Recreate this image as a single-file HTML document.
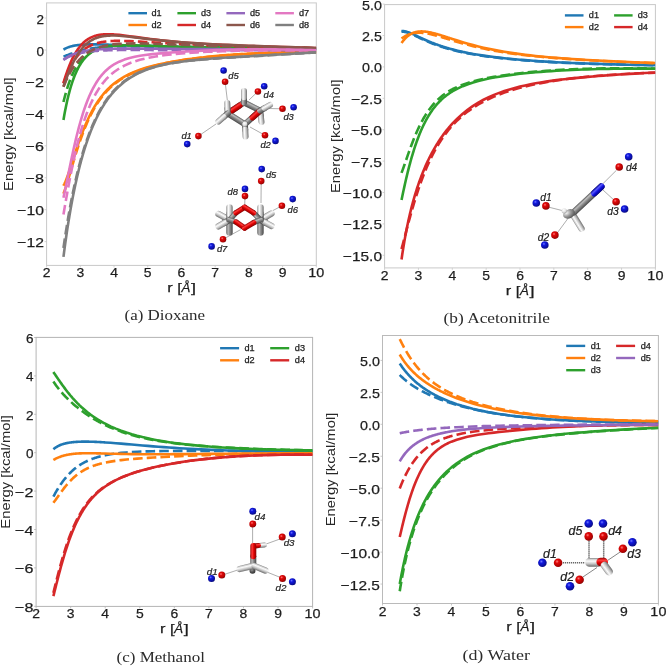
<!DOCTYPE html>
<html><head><meta charset="utf-8"><style>
html,body{margin:0;padding:0;background:#fff;}
svg{display:block;filter:blur(0.3px);}
</style></head><body>
<svg width="666" height="666" viewBox="0 0 666 666">
<defs>
<clipPath id="clipa"><rect x="46.60" y="2.90" width="269.70" height="262.50"/></clipPath>
<clipPath id="clipb"><rect x="384.60" y="4.60" width="270.80" height="263.30"/></clipPath>
<clipPath id="clipc"><rect x="36.10" y="337.40" width="276.50" height="269.00"/></clipPath>
<clipPath id="clipd"><rect x="382.50" y="335.50" width="275.90" height="268.00"/></clipPath>

<radialGradient id="gK" cx="0.4" cy="0.35" r="0.7">
  <stop offset="0" stop-color="#9a9a9a"/><stop offset="0.5" stop-color="#555"/><stop offset="1" stop-color="#2a2a2a"/>
</radialGradient>
<radialGradient id="gM" cx="0.35" cy="0.3" r="0.75">
  <stop offset="0" stop-color="#f4f4f4"/><stop offset="0.45" stop-color="#a0a0a0"/><stop offset="1" stop-color="#505050"/>
</radialGradient>
<radialGradient id="gW" cx="0.4" cy="0.35" r="0.7">
  <stop offset="0" stop-color="#ffffff"/><stop offset="0.6" stop-color="#e0e0e0"/><stop offset="1" stop-color="#9a9a9a"/>
</radialGradient>
<linearGradient id="sG" x1="0" y1="0" x2="0" y2="1">
  <stop offset="0" stop-color="#585858"/><stop offset="0.28" stop-color="#bdbdbd"/><stop offset="0.55" stop-color="#8a8a8a"/><stop offset="1" stop-color="#474747"/>
</linearGradient>
<linearGradient id="sW" x1="0" y1="0" x2="0" y2="1">
  <stop offset="0" stop-color="#8a8a8a"/><stop offset="0.15" stop-color="#d0d0d0"/><stop offset="0.35" stop-color="#fbfbfb"/><stop offset="0.66" stop-color="#c6c6c6"/><stop offset="1" stop-color="#6c6c6c"/>
</linearGradient>
<linearGradient id="sR" x1="0" y1="0" x2="0" y2="1">
  <stop offset="0" stop-color="#9a0000"/><stop offset="0.3" stop-color="#ff3a3a"/><stop offset="0.6" stop-color="#dd0000"/><stop offset="1" stop-color="#880000"/>
</linearGradient>
<linearGradient id="sB" x1="0" y1="0" x2="0" y2="1">
  <stop offset="0" stop-color="#000090"/><stop offset="0.3" stop-color="#5a5aff"/><stop offset="0.6" stop-color="#1010e0"/><stop offset="1" stop-color="#000080"/>
</linearGradient>
<linearGradient id="sK" x1="0" y1="0" x2="0" y2="1">
  <stop offset="0" stop-color="#202020"/><stop offset="0.3" stop-color="#606060"/><stop offset="1" stop-color="#202020"/>
</linearGradient>
<radialGradient id="gR" cx="0.38" cy="0.35" r="0.72">
  <stop offset="0" stop-color="#ff7a7a"/><stop offset="0.28" stop-color="#e00808"/><stop offset="0.8" stop-color="#a80000"/><stop offset="1" stop-color="#700000"/>
</radialGradient>
<radialGradient id="gB" cx="0.38" cy="0.35" r="0.72">
  <stop offset="0" stop-color="#7078ff"/><stop offset="0.28" stop-color="#1018e0"/><stop offset="0.8" stop-color="#080c98"/><stop offset="1" stop-color="#04066a"/>
</radialGradient>

</defs>
<rect width="666" height="666" fill="#fff"/>
<g opacity="0.995">
<rect x="46.60" y="2.90" width="269.70" height="262.50" fill="none" stroke="#c8c8c8" stroke-width="1"/>
<line x1="44.60" y1="18.06" x2="46.60" y2="18.06" stroke="#c8c8c8" stroke-width="0.8"/>
<text x="44.00" y="23.56" font-size="13.5" text-anchor="end" textLength="7.49" lengthAdjust="spacingAndGlyphs" font-family='"Liberation Sans", sans-serif' fill="#1c1c1c" stroke="#1c1c1c" stroke-width="0.25" >2</text>
<line x1="44.60" y1="50.00" x2="46.60" y2="50.00" stroke="#c8c8c8" stroke-width="0.8"/>
<text x="44.00" y="55.50" font-size="13.5" text-anchor="end" textLength="7.49" lengthAdjust="spacingAndGlyphs" font-family='"Liberation Sans", sans-serif' fill="#1c1c1c" stroke="#1c1c1c" stroke-width="0.25" >0</text>
<line x1="44.60" y1="81.94" x2="46.60" y2="81.94" stroke="#c8c8c8" stroke-width="0.8"/>
<text x="44.00" y="87.44" font-size="13.5" text-anchor="end" textLength="18.38" lengthAdjust="spacingAndGlyphs" font-family='"Liberation Sans", sans-serif' fill="#1c1c1c" stroke="#1c1c1c" stroke-width="0.25" >−2</text>
<line x1="44.60" y1="113.88" x2="46.60" y2="113.88" stroke="#c8c8c8" stroke-width="0.8"/>
<text x="44.00" y="119.38" font-size="13.5" text-anchor="end" textLength="18.38" lengthAdjust="spacingAndGlyphs" font-family='"Liberation Sans", sans-serif' fill="#1c1c1c" stroke="#1c1c1c" stroke-width="0.25" >−4</text>
<line x1="44.60" y1="145.82" x2="46.60" y2="145.82" stroke="#c8c8c8" stroke-width="0.8"/>
<text x="44.00" y="151.32" font-size="13.5" text-anchor="end" textLength="18.38" lengthAdjust="spacingAndGlyphs" font-family='"Liberation Sans", sans-serif' fill="#1c1c1c" stroke="#1c1c1c" stroke-width="0.25" >−6</text>
<line x1="44.60" y1="177.76" x2="46.60" y2="177.76" stroke="#c8c8c8" stroke-width="0.8"/>
<text x="44.00" y="183.26" font-size="13.5" text-anchor="end" textLength="18.38" lengthAdjust="spacingAndGlyphs" font-family='"Liberation Sans", sans-serif' fill="#1c1c1c" stroke="#1c1c1c" stroke-width="0.25" >−8</text>
<line x1="44.60" y1="209.70" x2="46.60" y2="209.70" stroke="#c8c8c8" stroke-width="0.8"/>
<text x="44.00" y="215.20" font-size="13.5" text-anchor="end" textLength="26.65" lengthAdjust="spacingAndGlyphs" font-family='"Liberation Sans", sans-serif' fill="#1c1c1c" stroke="#1c1c1c" stroke-width="0.25" >−10</text>
<line x1="44.60" y1="241.64" x2="46.60" y2="241.64" stroke="#c8c8c8" stroke-width="0.8"/>
<text x="44.00" y="247.14" font-size="13.5" text-anchor="end" textLength="26.65" lengthAdjust="spacingAndGlyphs" font-family='"Liberation Sans", sans-serif' fill="#1c1c1c" stroke="#1c1c1c" stroke-width="0.25" >−12</text>
<line x1="46.60" y1="265.40" x2="46.60" y2="267.40" stroke="#c8c8c8" stroke-width="0.8"/>
<text x="46.60" y="277.40" font-size="13.5" text-anchor="middle" textLength="7.75" lengthAdjust="spacingAndGlyphs" font-family='"Liberation Sans", sans-serif' fill="#1c1c1c" stroke="#1c1c1c" stroke-width="0.25" >2</text>
<line x1="80.31" y1="265.40" x2="80.31" y2="267.40" stroke="#c8c8c8" stroke-width="0.8"/>
<text x="80.31" y="277.40" font-size="13.5" text-anchor="middle" textLength="7.75" lengthAdjust="spacingAndGlyphs" font-family='"Liberation Sans", sans-serif' fill="#1c1c1c" stroke="#1c1c1c" stroke-width="0.25" >3</text>
<line x1="114.03" y1="265.40" x2="114.03" y2="267.40" stroke="#c8c8c8" stroke-width="0.8"/>
<text x="114.03" y="277.40" font-size="13.5" text-anchor="middle" textLength="7.75" lengthAdjust="spacingAndGlyphs" font-family='"Liberation Sans", sans-serif' fill="#1c1c1c" stroke="#1c1c1c" stroke-width="0.25" >4</text>
<line x1="147.74" y1="265.40" x2="147.74" y2="267.40" stroke="#c8c8c8" stroke-width="0.8"/>
<text x="147.74" y="277.40" font-size="13.5" text-anchor="middle" textLength="7.75" lengthAdjust="spacingAndGlyphs" font-family='"Liberation Sans", sans-serif' fill="#1c1c1c" stroke="#1c1c1c" stroke-width="0.25" >5</text>
<line x1="181.45" y1="265.40" x2="181.45" y2="267.40" stroke="#c8c8c8" stroke-width="0.8"/>
<text x="181.45" y="277.40" font-size="13.5" text-anchor="middle" textLength="7.75" lengthAdjust="spacingAndGlyphs" font-family='"Liberation Sans", sans-serif' fill="#1c1c1c" stroke="#1c1c1c" stroke-width="0.25" >6</text>
<line x1="215.16" y1="265.40" x2="215.16" y2="267.40" stroke="#c8c8c8" stroke-width="0.8"/>
<text x="215.16" y="277.40" font-size="13.5" text-anchor="middle" textLength="7.75" lengthAdjust="spacingAndGlyphs" font-family='"Liberation Sans", sans-serif' fill="#1c1c1c" stroke="#1c1c1c" stroke-width="0.25" >7</text>
<line x1="248.87" y1="265.40" x2="248.87" y2="267.40" stroke="#c8c8c8" stroke-width="0.8"/>
<text x="248.87" y="277.40" font-size="13.5" text-anchor="middle" textLength="7.75" lengthAdjust="spacingAndGlyphs" font-family='"Liberation Sans", sans-serif' fill="#1c1c1c" stroke="#1c1c1c" stroke-width="0.25" >8</text>
<line x1="282.59" y1="265.40" x2="282.59" y2="267.40" stroke="#c8c8c8" stroke-width="0.8"/>
<text x="282.59" y="277.40" font-size="13.5" text-anchor="middle" textLength="7.75" lengthAdjust="spacingAndGlyphs" font-family='"Liberation Sans", sans-serif' fill="#1c1c1c" stroke="#1c1c1c" stroke-width="0.25" >9</text>
<line x1="316.30" y1="265.40" x2="316.30" y2="267.40" stroke="#c8c8c8" stroke-width="0.8"/>
<text x="316.30" y="277.40" font-size="13.5" text-anchor="middle" textLength="16.02" lengthAdjust="spacingAndGlyphs" font-family='"Liberation Sans", sans-serif' fill="#1c1c1c" stroke="#1c1c1c" stroke-width="0.25" >10</text>
<text x="167.20" y="292.20" font-size="13.5" text-anchor="start" textLength="14.55" lengthAdjust="spacingAndGlyphs" font-family='"Liberation Sans", sans-serif' fill="#1c1c1c" stroke="#1c1c1c" stroke-width="0.25" >r [</text>
<text x="181.44" y="292.20" font-size="13.5" text-anchor="start" textLength="8.89" lengthAdjust="spacingAndGlyphs" font-family='"Liberation Sans", sans-serif' fill="#1c1c1c" stroke="#1c1c1c" stroke-width="0.25" font-style="italic">Å</text>
<text x="190.93" y="292.20" font-size="13.5" text-anchor="start" textLength="5.07" lengthAdjust="spacingAndGlyphs" font-family='"Liberation Sans", sans-serif' fill="#1c1c1c" stroke="#1c1c1c" stroke-width="0.25" >]</text>
<text transform="translate(13.00,134.15) rotate(-90)" x="0" y="0" font-size="13.5" text-anchor="middle" textLength="113.59" lengthAdjust="spacingAndGlyphs" font-family='"Liberation Sans", sans-serif' fill="#262626">Energy [kcal/mol]</text>
<rect x="384.60" y="4.60" width="270.80" height="263.30" fill="none" stroke="#c8c8c8" stroke-width="1"/>
<line x1="382.60" y1="4.10" x2="384.60" y2="4.10" stroke="#c8c8c8" stroke-width="0.8"/>
<text x="382.00" y="9.60" font-size="13.5" text-anchor="end" textLength="19.89" lengthAdjust="spacingAndGlyphs" font-family='"Liberation Sans", sans-serif' fill="#1c1c1c" stroke="#1c1c1c" stroke-width="0.25" >5.0</text>
<line x1="382.60" y1="35.50" x2="384.60" y2="35.50" stroke="#c8c8c8" stroke-width="0.8"/>
<text x="382.00" y="41.00" font-size="13.5" text-anchor="end" textLength="19.89" lengthAdjust="spacingAndGlyphs" font-family='"Liberation Sans", sans-serif' fill="#1c1c1c" stroke="#1c1c1c" stroke-width="0.25" >2.5</text>
<line x1="382.60" y1="66.90" x2="384.60" y2="66.90" stroke="#c8c8c8" stroke-width="0.8"/>
<text x="382.00" y="72.40" font-size="13.5" text-anchor="end" textLength="19.89" lengthAdjust="spacingAndGlyphs" font-family='"Liberation Sans", sans-serif' fill="#1c1c1c" stroke="#1c1c1c" stroke-width="0.25" >0.0</text>
<line x1="382.60" y1="98.30" x2="384.60" y2="98.30" stroke="#c8c8c8" stroke-width="0.8"/>
<text x="382.00" y="103.80" font-size="13.5" text-anchor="end" textLength="30.78" lengthAdjust="spacingAndGlyphs" font-family='"Liberation Sans", sans-serif' fill="#1c1c1c" stroke="#1c1c1c" stroke-width="0.25" >−2.5</text>
<line x1="382.60" y1="129.70" x2="384.60" y2="129.70" stroke="#c8c8c8" stroke-width="0.8"/>
<text x="382.00" y="135.20" font-size="13.5" text-anchor="end" textLength="30.78" lengthAdjust="spacingAndGlyphs" font-family='"Liberation Sans", sans-serif' fill="#1c1c1c" stroke="#1c1c1c" stroke-width="0.25" >−5.0</text>
<line x1="382.60" y1="161.10" x2="384.60" y2="161.10" stroke="#c8c8c8" stroke-width="0.8"/>
<text x="382.00" y="166.60" font-size="13.5" text-anchor="end" textLength="30.78" lengthAdjust="spacingAndGlyphs" font-family='"Liberation Sans", sans-serif' fill="#1c1c1c" stroke="#1c1c1c" stroke-width="0.25" >−7.5</text>
<line x1="382.60" y1="192.50" x2="384.60" y2="192.50" stroke="#c8c8c8" stroke-width="0.8"/>
<text x="382.00" y="198.00" font-size="13.5" text-anchor="end" textLength="39.05" lengthAdjust="spacingAndGlyphs" font-family='"Liberation Sans", sans-serif' fill="#1c1c1c" stroke="#1c1c1c" stroke-width="0.25" >−10.0</text>
<line x1="382.60" y1="223.90" x2="384.60" y2="223.90" stroke="#c8c8c8" stroke-width="0.8"/>
<text x="382.00" y="229.40" font-size="13.5" text-anchor="end" textLength="39.05" lengthAdjust="spacingAndGlyphs" font-family='"Liberation Sans", sans-serif' fill="#1c1c1c" stroke="#1c1c1c" stroke-width="0.25" >−12.5</text>
<line x1="382.60" y1="255.30" x2="384.60" y2="255.30" stroke="#c8c8c8" stroke-width="0.8"/>
<text x="382.00" y="260.80" font-size="13.5" text-anchor="end" textLength="39.05" lengthAdjust="spacingAndGlyphs" font-family='"Liberation Sans", sans-serif' fill="#1c1c1c" stroke="#1c1c1c" stroke-width="0.25" >−15.0</text>
<line x1="384.60" y1="267.90" x2="384.60" y2="269.90" stroke="#c8c8c8" stroke-width="0.8"/>
<text x="384.60" y="279.90" font-size="13.5" text-anchor="middle" textLength="7.75" lengthAdjust="spacingAndGlyphs" font-family='"Liberation Sans", sans-serif' fill="#1c1c1c" stroke="#1c1c1c" stroke-width="0.25" >2</text>
<line x1="418.45" y1="267.90" x2="418.45" y2="269.90" stroke="#c8c8c8" stroke-width="0.8"/>
<text x="418.45" y="279.90" font-size="13.5" text-anchor="middle" textLength="7.75" lengthAdjust="spacingAndGlyphs" font-family='"Liberation Sans", sans-serif' fill="#1c1c1c" stroke="#1c1c1c" stroke-width="0.25" >3</text>
<line x1="452.30" y1="267.90" x2="452.30" y2="269.90" stroke="#c8c8c8" stroke-width="0.8"/>
<text x="452.30" y="279.90" font-size="13.5" text-anchor="middle" textLength="7.75" lengthAdjust="spacingAndGlyphs" font-family='"Liberation Sans", sans-serif' fill="#1c1c1c" stroke="#1c1c1c" stroke-width="0.25" >4</text>
<line x1="486.15" y1="267.90" x2="486.15" y2="269.90" stroke="#c8c8c8" stroke-width="0.8"/>
<text x="486.15" y="279.90" font-size="13.5" text-anchor="middle" textLength="7.75" lengthAdjust="spacingAndGlyphs" font-family='"Liberation Sans", sans-serif' fill="#1c1c1c" stroke="#1c1c1c" stroke-width="0.25" >5</text>
<line x1="520.00" y1="267.90" x2="520.00" y2="269.90" stroke="#c8c8c8" stroke-width="0.8"/>
<text x="520.00" y="279.90" font-size="13.5" text-anchor="middle" textLength="7.75" lengthAdjust="spacingAndGlyphs" font-family='"Liberation Sans", sans-serif' fill="#1c1c1c" stroke="#1c1c1c" stroke-width="0.25" >6</text>
<line x1="553.85" y1="267.90" x2="553.85" y2="269.90" stroke="#c8c8c8" stroke-width="0.8"/>
<text x="553.85" y="279.90" font-size="13.5" text-anchor="middle" textLength="7.75" lengthAdjust="spacingAndGlyphs" font-family='"Liberation Sans", sans-serif' fill="#1c1c1c" stroke="#1c1c1c" stroke-width="0.25" >7</text>
<line x1="587.70" y1="267.90" x2="587.70" y2="269.90" stroke="#c8c8c8" stroke-width="0.8"/>
<text x="587.70" y="279.90" font-size="13.5" text-anchor="middle" textLength="7.75" lengthAdjust="spacingAndGlyphs" font-family='"Liberation Sans", sans-serif' fill="#1c1c1c" stroke="#1c1c1c" stroke-width="0.25" >8</text>
<line x1="621.55" y1="267.90" x2="621.55" y2="269.90" stroke="#c8c8c8" stroke-width="0.8"/>
<text x="621.55" y="279.90" font-size="13.5" text-anchor="middle" textLength="7.75" lengthAdjust="spacingAndGlyphs" font-family='"Liberation Sans", sans-serif' fill="#1c1c1c" stroke="#1c1c1c" stroke-width="0.25" >9</text>
<line x1="655.40" y1="267.90" x2="655.40" y2="269.90" stroke="#c8c8c8" stroke-width="0.8"/>
<text x="655.40" y="279.90" font-size="13.5" text-anchor="middle" textLength="16.02" lengthAdjust="spacingAndGlyphs" font-family='"Liberation Sans", sans-serif' fill="#1c1c1c" stroke="#1c1c1c" stroke-width="0.25" >10</text>
<text x="505.75" y="295.10" font-size="13.5" text-anchor="start" textLength="14.55" lengthAdjust="spacingAndGlyphs" font-family='"Liberation Sans", sans-serif' fill="#1c1c1c" stroke="#1c1c1c" stroke-width="0.25" >r [</text>
<text x="519.99" y="295.10" font-size="13.5" text-anchor="start" textLength="8.89" lengthAdjust="spacingAndGlyphs" font-family='"Liberation Sans", sans-serif' fill="#1c1c1c" stroke="#1c1c1c" stroke-width="0.25" font-style="italic">Å</text>
<text x="529.48" y="295.10" font-size="13.5" text-anchor="start" textLength="5.07" lengthAdjust="spacingAndGlyphs" font-family='"Liberation Sans", sans-serif' fill="#1c1c1c" stroke="#1c1c1c" stroke-width="0.25" >]</text>
<text transform="translate(339.70,136.25) rotate(-90)" x="0" y="0" font-size="13.5" text-anchor="middle" textLength="113.59" lengthAdjust="spacingAndGlyphs" font-family='"Liberation Sans", sans-serif' fill="#262626">Energy [kcal/mol]</text>
<rect x="36.10" y="337.40" width="276.50" height="269.00" fill="none" stroke="#b4b4b4" stroke-width="1"/>
<line x1="34.10" y1="337.50" x2="36.10" y2="337.50" stroke="#b4b4b4" stroke-width="0.8"/>
<text x="33.50" y="343.00" font-size="13.5" text-anchor="end" textLength="7.49" lengthAdjust="spacingAndGlyphs" font-family='"Liberation Sans", sans-serif' fill="#1c1c1c" stroke="#1c1c1c" stroke-width="0.25" >6</text>
<line x1="34.10" y1="375.90" x2="36.10" y2="375.90" stroke="#b4b4b4" stroke-width="0.8"/>
<text x="33.50" y="381.40" font-size="13.5" text-anchor="end" textLength="7.49" lengthAdjust="spacingAndGlyphs" font-family='"Liberation Sans", sans-serif' fill="#1c1c1c" stroke="#1c1c1c" stroke-width="0.25" >4</text>
<line x1="34.10" y1="414.30" x2="36.10" y2="414.30" stroke="#b4b4b4" stroke-width="0.8"/>
<text x="33.50" y="419.80" font-size="13.5" text-anchor="end" textLength="7.49" lengthAdjust="spacingAndGlyphs" font-family='"Liberation Sans", sans-serif' fill="#1c1c1c" stroke="#1c1c1c" stroke-width="0.25" >2</text>
<line x1="34.10" y1="452.70" x2="36.10" y2="452.70" stroke="#b4b4b4" stroke-width="0.8"/>
<text x="33.50" y="458.20" font-size="13.5" text-anchor="end" textLength="7.49" lengthAdjust="spacingAndGlyphs" font-family='"Liberation Sans", sans-serif' fill="#1c1c1c" stroke="#1c1c1c" stroke-width="0.25" >0</text>
<line x1="34.10" y1="491.10" x2="36.10" y2="491.10" stroke="#b4b4b4" stroke-width="0.8"/>
<text x="33.50" y="496.60" font-size="13.5" text-anchor="end" textLength="18.38" lengthAdjust="spacingAndGlyphs" font-family='"Liberation Sans", sans-serif' fill="#1c1c1c" stroke="#1c1c1c" stroke-width="0.25" >−2</text>
<line x1="34.10" y1="529.50" x2="36.10" y2="529.50" stroke="#b4b4b4" stroke-width="0.8"/>
<text x="33.50" y="535.00" font-size="13.5" text-anchor="end" textLength="18.38" lengthAdjust="spacingAndGlyphs" font-family='"Liberation Sans", sans-serif' fill="#1c1c1c" stroke="#1c1c1c" stroke-width="0.25" >−4</text>
<line x1="34.10" y1="567.90" x2="36.10" y2="567.90" stroke="#b4b4b4" stroke-width="0.8"/>
<text x="33.50" y="573.40" font-size="13.5" text-anchor="end" textLength="18.38" lengthAdjust="spacingAndGlyphs" font-family='"Liberation Sans", sans-serif' fill="#1c1c1c" stroke="#1c1c1c" stroke-width="0.25" >−6</text>
<line x1="34.10" y1="606.30" x2="36.10" y2="606.30" stroke="#b4b4b4" stroke-width="0.8"/>
<text x="33.50" y="611.80" font-size="13.5" text-anchor="end" textLength="18.38" lengthAdjust="spacingAndGlyphs" font-family='"Liberation Sans", sans-serif' fill="#1c1c1c" stroke="#1c1c1c" stroke-width="0.25" >−8</text>
<line x1="36.10" y1="606.40" x2="36.10" y2="608.40" stroke="#b4b4b4" stroke-width="0.8"/>
<text x="36.10" y="618.40" font-size="13.5" text-anchor="middle" textLength="7.75" lengthAdjust="spacingAndGlyphs" font-family='"Liberation Sans", sans-serif' fill="#1c1c1c" stroke="#1c1c1c" stroke-width="0.25" >2</text>
<line x1="70.66" y1="606.40" x2="70.66" y2="608.40" stroke="#b4b4b4" stroke-width="0.8"/>
<text x="70.66" y="618.40" font-size="13.5" text-anchor="middle" textLength="7.75" lengthAdjust="spacingAndGlyphs" font-family='"Liberation Sans", sans-serif' fill="#1c1c1c" stroke="#1c1c1c" stroke-width="0.25" >3</text>
<line x1="105.22" y1="606.40" x2="105.22" y2="608.40" stroke="#b4b4b4" stroke-width="0.8"/>
<text x="105.22" y="618.40" font-size="13.5" text-anchor="middle" textLength="7.75" lengthAdjust="spacingAndGlyphs" font-family='"Liberation Sans", sans-serif' fill="#1c1c1c" stroke="#1c1c1c" stroke-width="0.25" >4</text>
<line x1="139.79" y1="606.40" x2="139.79" y2="608.40" stroke="#b4b4b4" stroke-width="0.8"/>
<text x="139.79" y="618.40" font-size="13.5" text-anchor="middle" textLength="7.75" lengthAdjust="spacingAndGlyphs" font-family='"Liberation Sans", sans-serif' fill="#1c1c1c" stroke="#1c1c1c" stroke-width="0.25" >5</text>
<line x1="174.35" y1="606.40" x2="174.35" y2="608.40" stroke="#b4b4b4" stroke-width="0.8"/>
<text x="174.35" y="618.40" font-size="13.5" text-anchor="middle" textLength="7.75" lengthAdjust="spacingAndGlyphs" font-family='"Liberation Sans", sans-serif' fill="#1c1c1c" stroke="#1c1c1c" stroke-width="0.25" >6</text>
<line x1="208.91" y1="606.40" x2="208.91" y2="608.40" stroke="#b4b4b4" stroke-width="0.8"/>
<text x="208.91" y="618.40" font-size="13.5" text-anchor="middle" textLength="7.75" lengthAdjust="spacingAndGlyphs" font-family='"Liberation Sans", sans-serif' fill="#1c1c1c" stroke="#1c1c1c" stroke-width="0.25" >7</text>
<line x1="243.47" y1="606.40" x2="243.47" y2="608.40" stroke="#b4b4b4" stroke-width="0.8"/>
<text x="243.47" y="618.40" font-size="13.5" text-anchor="middle" textLength="7.75" lengthAdjust="spacingAndGlyphs" font-family='"Liberation Sans", sans-serif' fill="#1c1c1c" stroke="#1c1c1c" stroke-width="0.25" >8</text>
<line x1="278.04" y1="606.40" x2="278.04" y2="608.40" stroke="#b4b4b4" stroke-width="0.8"/>
<text x="278.04" y="618.40" font-size="13.5" text-anchor="middle" textLength="7.75" lengthAdjust="spacingAndGlyphs" font-family='"Liberation Sans", sans-serif' fill="#1c1c1c" stroke="#1c1c1c" stroke-width="0.25" >9</text>
<line x1="312.60" y1="606.40" x2="312.60" y2="608.40" stroke="#b4b4b4" stroke-width="0.8"/>
<text x="312.60" y="618.40" font-size="13.5" text-anchor="middle" textLength="16.02" lengthAdjust="spacingAndGlyphs" font-family='"Liberation Sans", sans-serif' fill="#1c1c1c" stroke="#1c1c1c" stroke-width="0.25" >10</text>
<text x="160.10" y="633.00" font-size="13.5" text-anchor="start" textLength="14.55" lengthAdjust="spacingAndGlyphs" font-family='"Liberation Sans", sans-serif' fill="#1c1c1c" stroke="#1c1c1c" stroke-width="0.25" >r [</text>
<text x="174.34" y="633.00" font-size="13.5" text-anchor="start" textLength="8.89" lengthAdjust="spacingAndGlyphs" font-family='"Liberation Sans", sans-serif' fill="#1c1c1c" stroke="#1c1c1c" stroke-width="0.25" font-style="italic">Å</text>
<text x="183.83" y="633.00" font-size="13.5" text-anchor="start" textLength="5.07" lengthAdjust="spacingAndGlyphs" font-family='"Liberation Sans", sans-serif' fill="#1c1c1c" stroke="#1c1c1c" stroke-width="0.25" >]</text>
<text transform="translate(9.60,471.90) rotate(-90)" x="0" y="0" font-size="13.5" text-anchor="middle" textLength="113.59" lengthAdjust="spacingAndGlyphs" font-family='"Liberation Sans", sans-serif' fill="#262626">Energy [kcal/mol]</text>
<rect x="382.50" y="335.50" width="275.90" height="268.00" fill="none" stroke="#bababa" stroke-width="1"/>
<line x1="380.50" y1="360.40" x2="382.50" y2="360.40" stroke="#bababa" stroke-width="0.8"/>
<text x="379.90" y="365.90" font-size="13.5" text-anchor="end" textLength="19.89" lengthAdjust="spacingAndGlyphs" font-family='"Liberation Sans", sans-serif' fill="#1c1c1c" stroke="#1c1c1c" stroke-width="0.25" >5.0</text>
<line x1="380.50" y1="392.35" x2="382.50" y2="392.35" stroke="#bababa" stroke-width="0.8"/>
<text x="379.90" y="397.85" font-size="13.5" text-anchor="end" textLength="19.89" lengthAdjust="spacingAndGlyphs" font-family='"Liberation Sans", sans-serif' fill="#1c1c1c" stroke="#1c1c1c" stroke-width="0.25" >2.5</text>
<line x1="380.50" y1="424.30" x2="382.50" y2="424.30" stroke="#bababa" stroke-width="0.8"/>
<text x="379.90" y="429.80" font-size="13.5" text-anchor="end" textLength="19.89" lengthAdjust="spacingAndGlyphs" font-family='"Liberation Sans", sans-serif' fill="#1c1c1c" stroke="#1c1c1c" stroke-width="0.25" >0.0</text>
<line x1="380.50" y1="456.25" x2="382.50" y2="456.25" stroke="#bababa" stroke-width="0.8"/>
<text x="379.90" y="461.75" font-size="13.5" text-anchor="end" textLength="30.78" lengthAdjust="spacingAndGlyphs" font-family='"Liberation Sans", sans-serif' fill="#1c1c1c" stroke="#1c1c1c" stroke-width="0.25" >−2.5</text>
<line x1="380.50" y1="488.20" x2="382.50" y2="488.20" stroke="#bababa" stroke-width="0.8"/>
<text x="379.90" y="493.70" font-size="13.5" text-anchor="end" textLength="30.78" lengthAdjust="spacingAndGlyphs" font-family='"Liberation Sans", sans-serif' fill="#1c1c1c" stroke="#1c1c1c" stroke-width="0.25" >−5.0</text>
<line x1="380.50" y1="520.15" x2="382.50" y2="520.15" stroke="#bababa" stroke-width="0.8"/>
<text x="379.90" y="525.65" font-size="13.5" text-anchor="end" textLength="30.78" lengthAdjust="spacingAndGlyphs" font-family='"Liberation Sans", sans-serif' fill="#1c1c1c" stroke="#1c1c1c" stroke-width="0.25" >−7.5</text>
<line x1="380.50" y1="552.10" x2="382.50" y2="552.10" stroke="#bababa" stroke-width="0.8"/>
<text x="379.90" y="557.60" font-size="13.5" text-anchor="end" textLength="39.05" lengthAdjust="spacingAndGlyphs" font-family='"Liberation Sans", sans-serif' fill="#1c1c1c" stroke="#1c1c1c" stroke-width="0.25" >−10.0</text>
<line x1="380.50" y1="584.05" x2="382.50" y2="584.05" stroke="#bababa" stroke-width="0.8"/>
<text x="379.90" y="589.55" font-size="13.5" text-anchor="end" textLength="39.05" lengthAdjust="spacingAndGlyphs" font-family='"Liberation Sans", sans-serif' fill="#1c1c1c" stroke="#1c1c1c" stroke-width="0.25" >−12.5</text>
<line x1="382.50" y1="603.50" x2="382.50" y2="605.50" stroke="#bababa" stroke-width="0.8"/>
<text x="382.50" y="615.50" font-size="13.5" text-anchor="middle" textLength="7.75" lengthAdjust="spacingAndGlyphs" font-family='"Liberation Sans", sans-serif' fill="#1c1c1c" stroke="#1c1c1c" stroke-width="0.25" >2</text>
<line x1="416.99" y1="603.50" x2="416.99" y2="605.50" stroke="#bababa" stroke-width="0.8"/>
<text x="416.99" y="615.50" font-size="13.5" text-anchor="middle" textLength="7.75" lengthAdjust="spacingAndGlyphs" font-family='"Liberation Sans", sans-serif' fill="#1c1c1c" stroke="#1c1c1c" stroke-width="0.25" >3</text>
<line x1="451.48" y1="603.50" x2="451.48" y2="605.50" stroke="#bababa" stroke-width="0.8"/>
<text x="451.48" y="615.50" font-size="13.5" text-anchor="middle" textLength="7.75" lengthAdjust="spacingAndGlyphs" font-family='"Liberation Sans", sans-serif' fill="#1c1c1c" stroke="#1c1c1c" stroke-width="0.25" >4</text>
<line x1="485.96" y1="603.50" x2="485.96" y2="605.50" stroke="#bababa" stroke-width="0.8"/>
<text x="485.96" y="615.50" font-size="13.5" text-anchor="middle" textLength="7.75" lengthAdjust="spacingAndGlyphs" font-family='"Liberation Sans", sans-serif' fill="#1c1c1c" stroke="#1c1c1c" stroke-width="0.25" >5</text>
<line x1="520.45" y1="603.50" x2="520.45" y2="605.50" stroke="#bababa" stroke-width="0.8"/>
<text x="520.45" y="615.50" font-size="13.5" text-anchor="middle" textLength="7.75" lengthAdjust="spacingAndGlyphs" font-family='"Liberation Sans", sans-serif' fill="#1c1c1c" stroke="#1c1c1c" stroke-width="0.25" >6</text>
<line x1="554.94" y1="603.50" x2="554.94" y2="605.50" stroke="#bababa" stroke-width="0.8"/>
<text x="554.94" y="615.50" font-size="13.5" text-anchor="middle" textLength="7.75" lengthAdjust="spacingAndGlyphs" font-family='"Liberation Sans", sans-serif' fill="#1c1c1c" stroke="#1c1c1c" stroke-width="0.25" >7</text>
<line x1="589.42" y1="603.50" x2="589.42" y2="605.50" stroke="#bababa" stroke-width="0.8"/>
<text x="589.42" y="615.50" font-size="13.5" text-anchor="middle" textLength="7.75" lengthAdjust="spacingAndGlyphs" font-family='"Liberation Sans", sans-serif' fill="#1c1c1c" stroke="#1c1c1c" stroke-width="0.25" >8</text>
<line x1="623.91" y1="603.50" x2="623.91" y2="605.50" stroke="#bababa" stroke-width="0.8"/>
<text x="623.91" y="615.50" font-size="13.5" text-anchor="middle" textLength="7.75" lengthAdjust="spacingAndGlyphs" font-family='"Liberation Sans", sans-serif' fill="#1c1c1c" stroke="#1c1c1c" stroke-width="0.25" >9</text>
<line x1="658.40" y1="603.50" x2="658.40" y2="605.50" stroke="#bababa" stroke-width="0.8"/>
<text x="658.40" y="615.50" font-size="13.5" text-anchor="middle" textLength="16.02" lengthAdjust="spacingAndGlyphs" font-family='"Liberation Sans", sans-serif' fill="#1c1c1c" stroke="#1c1c1c" stroke-width="0.25" >10</text>
<text x="506.20" y="630.70" font-size="13.5" text-anchor="start" textLength="14.55" lengthAdjust="spacingAndGlyphs" font-family='"Liberation Sans", sans-serif' fill="#1c1c1c" stroke="#1c1c1c" stroke-width="0.25" >r [</text>
<text x="520.44" y="630.70" font-size="13.5" text-anchor="start" textLength="8.89" lengthAdjust="spacingAndGlyphs" font-family='"Liberation Sans", sans-serif' fill="#1c1c1c" stroke="#1c1c1c" stroke-width="0.25" font-style="italic">Å</text>
<text x="529.93" y="630.70" font-size="13.5" text-anchor="start" textLength="5.07" lengthAdjust="spacingAndGlyphs" font-family='"Liberation Sans", sans-serif' fill="#1c1c1c" stroke="#1c1c1c" stroke-width="0.25" >]</text>
<text transform="translate(335.00,469.50) rotate(-90)" x="0" y="0" font-size="13.5" text-anchor="middle" textLength="113.59" lengthAdjust="spacingAndGlyphs" font-family='"Liberation Sans", sans-serif' fill="#262626">Energy [kcal/mol]</text>
<path d="M63.46,49.68 L64.02,49.33 L64.59,49.00 L65.16,48.69 L65.73,48.40 L66.30,48.12 L66.87,47.87 L67.43,47.62 L68.00,47.40 L68.57,47.18 L69.14,46.98 L69.71,46.79 L70.27,46.62 L70.84,46.45 L71.41,46.29 L71.98,46.15 L72.55,46.01 L73.12,45.88 L73.68,45.76 L74.25,45.65 L74.82,45.55 L75.39,45.45 L75.96,45.36 L76.52,45.27 L77.09,45.19 L77.66,45.12 L78.23,45.05 L78.80,44.98 L79.37,44.92 L79.93,44.87 L80.50,44.82 L81.07,44.77 L81.64,44.73 L82.21,44.69 L82.77,44.65 L83.34,44.62 L83.91,44.59 L84.48,44.56 L85.05,44.53 L85.62,44.51 L86.18,44.49 L86.75,44.47 L87.32,44.46 L87.89,44.44 L88.46,44.43 L89.02,44.42 L89.59,44.41 L90.16,44.40 L90.73,44.40 L91.30,44.39 L91.87,44.39 L92.43,44.39 L93.00,44.39 L93.57,44.39 L94.14,44.39 L94.71,44.40 L95.27,44.40 L95.84,44.40 L96.41,44.41 L96.98,44.42 L97.55,44.42 L98.12,44.43 L98.68,44.44 L99.25,44.45 L99.82,44.46 L100.39,44.47 L100.96,44.48 L101.52,44.50 L102.09,44.51 L102.66,44.52 L103.23,44.53 L103.80,44.55 L104.37,44.56 L104.93,44.58 L105.50,44.59 L106.07,44.61 L106.64,44.62 L107.21,44.64 L107.77,44.65 L108.34,44.67 L108.91,44.69 L109.48,44.70 L110.05,44.72 L110.62,44.74 L111.18,44.76 L111.75,44.77 L112.32,44.79 L112.89,44.81 L113.46,44.83 L114.03,44.84 L119.21,45.01 L124.40,45.19 L129.58,45.36 L134.77,45.53 L139.96,45.70 L145.14,45.86 L150.33,46.01 L155.52,46.17 L160.70,46.31 L165.89,46.45 L171.08,46.58 L176.26,46.71 L181.45,46.84 L186.64,46.95 L191.82,47.07 L197.01,47.18 L202.20,47.28 L207.38,47.38 L212.57,47.47 L217.76,47.57 L222.94,47.65 L228.13,47.74 L233.32,47.82 L238.50,47.89 L243.69,47.97 L248.87,48.04 L254.06,48.10 L259.25,48.17 L264.43,48.23 L269.62,48.29 L274.81,48.35 L279.99,48.40 L285.18,48.45 L290.37,48.50 L295.55,48.55 L300.74,48.60 L305.93,48.64 L311.11,48.69 L316.30,48.73" fill="none" stroke="#1f77b4" stroke-width="2.6" stroke-linejoin="round" clip-path="url(#clipa)"/>
<path d="M63.46,56.55 L64.02,56.35 L64.59,56.15 L65.16,55.95 L65.73,55.74 L66.30,55.53 L66.87,55.32 L67.43,55.11 L68.00,54.90 L68.57,54.68 L69.14,54.47 L69.71,54.26 L70.27,54.05 L70.84,53.85 L71.41,53.64 L71.98,53.44 L72.55,53.24 L73.12,53.04 L73.68,52.84 L74.25,52.65 L74.82,52.46 L75.39,52.28 L75.96,52.09 L76.52,51.91 L77.09,51.74 L77.66,51.56 L78.23,51.40 L78.80,51.23 L79.37,51.07 L79.93,50.91 L80.50,50.76 L81.07,50.61 L81.64,50.46 L82.21,50.32 L82.77,50.18 L83.34,50.04 L83.91,49.91 L84.48,49.78 L85.05,49.65 L85.62,49.53 L86.18,49.41 L86.75,49.29 L87.32,49.18 L87.89,49.07 L88.46,48.96 L89.02,48.86 L89.59,48.76 L90.16,48.66 L90.73,48.57 L91.30,48.48 L91.87,48.39 L92.43,48.30 L93.00,48.22 L93.57,48.14 L94.14,48.06 L94.71,47.99 L95.27,47.91 L95.84,47.84 L96.41,47.78 L96.98,47.71 L97.55,47.65 L98.12,47.59 L98.68,47.53 L99.25,47.47 L99.82,47.41 L100.39,47.36 L100.96,47.31 L101.52,47.26 L102.09,47.21 L102.66,47.17 L103.23,47.13 L103.80,47.08 L104.37,47.04 L104.93,47.01 L105.50,46.97 L106.07,46.93 L106.64,46.90 L107.21,46.87 L107.77,46.84 L108.34,46.81 L108.91,46.78 L109.48,46.75 L110.05,46.73 L110.62,46.70 L111.18,46.68 L111.75,46.66 L112.32,46.64 L112.89,46.62 L113.46,46.60 L114.03,46.58 L119.21,46.47 L124.40,46.42 L129.58,46.42 L134.77,46.45 L139.96,46.51 L145.14,46.59 L150.33,46.69 L155.52,46.79 L160.70,46.90 L165.89,47.01 L171.08,47.12 L176.26,47.22 L181.45,47.33 L186.64,47.43 L191.82,47.53 L197.01,47.63 L202.20,47.72 L207.38,47.81 L212.57,47.89 L217.76,47.97 L222.94,48.05 L228.13,48.12 L233.32,48.19 L238.50,48.25 L243.69,48.31 L248.87,48.37 L254.06,48.42 L259.25,48.47 L264.43,48.52 L269.62,48.57 L274.81,48.61 L279.99,48.65 L285.18,48.69 L290.37,48.73 L295.55,48.76 L300.74,48.80 L305.93,48.83 L311.11,48.86 L316.30,48.89" fill="none" stroke="#1f77b4" stroke-width="2.6" stroke-dasharray="9.6 4.1" stroke-linejoin="round" clip-path="url(#clipa)"/>
<path d="M63.46,185.75 L64.02,184.71 L64.59,183.55 L65.16,182.29 L65.73,180.94 L66.30,179.52 L66.87,178.03 L67.43,176.48 L68.00,174.88 L68.57,173.24 L69.14,171.57 L69.71,169.87 L70.27,168.14 L70.84,166.40 L71.41,164.65 L71.98,162.89 L72.55,161.13 L73.12,159.36 L73.68,157.60 L74.25,155.85 L74.82,154.10 L75.39,152.37 L75.96,150.65 L76.52,148.94 L77.09,147.26 L77.66,145.58 L78.23,143.93 L78.80,142.30 L79.37,140.69 L79.93,139.11 L80.50,137.54 L81.07,136.01 L81.64,134.49 L82.21,133.00 L82.77,131.53 L83.34,130.09 L83.91,128.68 L84.48,127.29 L85.05,125.92 L85.62,124.58 L86.18,123.27 L86.75,121.98 L87.32,120.72 L87.89,119.48 L88.46,118.26 L89.02,117.07 L89.59,115.91 L90.16,114.77 L90.73,113.65 L91.30,112.55 L91.87,111.48 L92.43,110.43 L93.00,109.40 L93.57,108.40 L94.14,107.41 L94.71,106.45 L95.27,105.51 L95.84,104.59 L96.41,103.69 L96.98,102.80 L97.55,101.94 L98.12,101.10 L98.68,100.27 L99.25,99.46 L99.82,98.67 L100.39,97.90 L100.96,97.15 L101.52,96.41 L102.09,95.68 L102.66,94.98 L103.23,94.28 L103.80,93.61 L104.37,92.94 L104.93,92.30 L105.50,91.66 L106.07,91.04 L106.64,90.44 L107.21,89.84 L107.77,89.26 L108.34,88.69 L108.91,88.14 L109.48,87.59 L110.05,87.06 L110.62,86.54 L111.18,86.03 L111.75,85.53 L112.32,85.04 L112.89,84.56 L113.46,84.09 L114.03,83.63 L119.21,79.84 L124.40,76.67 L129.58,74.01 L134.77,71.73 L139.96,69.77 L145.14,68.06 L150.33,66.55 L155.52,65.21 L160.70,64.00 L165.89,62.91 L171.08,61.92 L176.26,61.01 L181.45,60.18 L186.64,59.41 L191.82,58.70 L197.01,58.04 L202.20,57.43 L207.38,56.86 L212.57,56.34 L217.76,55.86 L222.94,55.41 L228.13,55.00 L233.32,54.63 L238.50,54.28 L243.69,53.97 L248.87,53.68 L254.06,53.43 L259.25,53.20 L264.43,52.99 L269.62,52.81 L274.81,52.66 L279.99,52.52 L285.18,52.41 L290.37,52.32 L295.55,52.25 L300.74,52.19 L305.93,52.16 L311.11,52.14 L316.30,52.14" fill="none" stroke="#ff7f0e" stroke-width="2.6" stroke-linejoin="round" clip-path="url(#clipa)"/>
<path d="M63.46,193.73 L64.02,192.26 L64.59,190.69 L65.16,189.06 L65.73,187.35 L66.30,185.60 L66.87,183.80 L67.43,181.96 L68.00,180.09 L68.57,178.20 L69.14,176.29 L69.71,174.36 L70.27,172.43 L70.84,170.50 L71.41,168.56 L71.98,166.63 L72.55,164.70 L73.12,162.79 L73.68,160.89 L74.25,159.00 L74.82,157.13 L75.39,155.28 L75.96,153.45 L76.52,151.64 L77.09,149.86 L77.66,148.10 L78.23,146.36 L78.80,144.65 L79.37,142.96 L79.93,141.30 L80.50,139.67 L81.07,138.07 L81.64,136.49 L82.21,134.94 L82.77,133.42 L83.34,131.93 L83.91,130.47 L84.48,129.03 L85.05,127.62 L85.62,126.24 L86.18,124.89 L86.75,123.56 L87.32,122.26 L87.89,120.99 L88.46,119.74 L89.02,118.52 L89.59,117.32 L90.16,116.15 L90.73,115.01 L91.30,113.88 L91.87,112.79 L92.43,111.71 L93.00,110.66 L93.57,109.64 L94.14,108.63 L94.71,107.65 L95.27,106.68 L95.84,105.74 L96.41,104.82 L96.98,103.92 L97.55,103.04 L98.12,102.18 L98.68,101.34 L99.25,100.51 L99.82,99.71 L100.39,98.92 L100.96,98.15 L101.52,97.39 L102.09,96.66 L102.66,95.93 L103.23,95.23 L103.80,94.54 L104.37,93.86 L104.93,93.20 L105.50,92.56 L106.07,91.92 L106.64,91.30 L107.21,90.70 L107.77,90.11 L108.34,89.53 L108.91,88.96 L109.48,88.40 L110.05,87.86 L110.62,87.33 L111.18,86.81 L111.75,86.30 L112.32,85.80 L112.89,85.31 L113.46,84.83 L114.03,84.36 L119.21,80.48 L124.40,77.25 L129.58,74.51 L134.77,72.18 L139.96,70.17 L145.14,68.41 L150.33,66.86 L155.52,65.49 L160.70,64.26 L165.89,63.14 L171.08,62.13 L176.26,61.20 L181.45,60.36 L186.64,59.57 L191.82,58.85 L197.01,58.19 L202.20,57.57 L207.38,57.00 L212.57,56.47 L217.76,55.99 L222.94,55.54 L228.13,55.12 L233.32,54.74 L238.50,54.39 L243.69,54.08 L248.87,53.79 L254.06,53.53 L259.25,53.29 L264.43,53.08 L269.62,52.89 L274.81,52.73 L279.99,52.59 L285.18,52.47 L290.37,52.37 L295.55,52.28 L300.74,52.22 L305.93,52.17 L311.11,52.14 L316.30,52.13" fill="none" stroke="#ff7f0e" stroke-width="2.6" stroke-dasharray="9.6 4.1" stroke-linejoin="round" clip-path="url(#clipa)"/>
<path d="M63.46,119.96 L64.02,116.67 L64.59,113.53 L65.16,110.52 L65.73,107.65 L66.30,104.90 L66.87,102.26 L67.43,99.74 L68.00,97.33 L68.57,95.03 L69.14,92.82 L69.71,90.71 L70.27,88.68 L70.84,86.75 L71.41,84.90 L71.98,83.12 L72.55,81.42 L73.12,79.80 L73.68,78.24 L74.25,76.75 L74.82,75.33 L75.39,73.96 L75.96,72.66 L76.52,71.41 L77.09,70.21 L77.66,69.06 L78.23,67.97 L78.80,66.92 L79.37,65.91 L79.93,64.95 L80.50,64.03 L81.07,63.14 L81.64,62.30 L82.21,61.49 L82.77,60.72 L83.34,59.98 L83.91,59.27 L84.48,58.59 L85.05,57.94 L85.62,57.32 L86.18,56.73 L86.75,56.16 L87.32,55.61 L87.89,55.09 L88.46,54.60 L89.02,54.12 L89.59,53.67 L90.16,53.23 L90.73,52.82 L91.30,52.42 L91.87,52.04 L92.43,51.68 L93.00,51.33 L93.57,51.00 L94.14,50.69 L94.71,50.39 L95.27,50.10 L95.84,49.82 L96.41,49.56 L96.98,49.31 L97.55,49.07 L98.12,48.85 L98.68,48.63 L99.25,48.43 L99.82,48.23 L100.39,48.04 L100.96,47.87 L101.52,47.70 L102.09,47.54 L102.66,47.38 L103.23,47.24 L103.80,47.10 L104.37,46.97 L104.93,46.85 L105.50,46.73 L106.07,46.62 L106.64,46.51 L107.21,46.41 L107.77,46.32 L108.34,46.23 L108.91,46.15 L109.48,46.07 L110.05,46.00 L110.62,45.93 L111.18,45.86 L111.75,45.80 L112.32,45.74 L112.89,45.69 L113.46,45.64 L114.03,45.59 L119.21,45.30 L124.40,45.20 L129.58,45.22 L134.77,45.31 L139.96,45.46 L145.14,45.63 L150.33,45.81 L155.52,45.99 L160.70,46.18 L165.89,46.35 L171.08,46.52 L176.26,46.68 L181.45,46.82 L186.64,46.96 L191.82,47.08 L197.01,47.20 L202.20,47.31 L207.38,47.41 L212.57,47.50 L217.76,47.59 L222.94,47.67 L228.13,47.75 L233.32,47.82 L238.50,47.89 L243.69,47.95 L248.87,48.02 L254.06,48.08 L259.25,48.14 L264.43,48.19 L269.62,48.25 L274.81,48.30 L279.99,48.36 L285.18,48.41 L290.37,48.47 L295.55,48.52 L300.74,48.57 L305.93,48.62 L311.11,48.68 L316.30,48.73" fill="none" stroke="#2ca02c" stroke-width="2.6" stroke-linejoin="round" clip-path="url(#clipa)"/>
<path d="M63.46,102.07 L64.02,99.74 L64.59,97.51 L65.16,95.36 L65.73,93.30 L66.30,91.32 L66.87,89.43 L67.43,87.60 L68.00,85.85 L68.57,84.18 L69.14,82.56 L69.71,81.02 L70.27,79.53 L70.84,78.10 L71.41,76.73 L71.98,75.42 L72.55,74.16 L73.12,72.94 L73.68,71.78 L74.25,70.66 L74.82,69.59 L75.39,68.56 L75.96,67.57 L76.52,66.62 L77.09,65.71 L77.66,64.84 L78.23,64.00 L78.80,63.19 L79.37,62.42 L79.93,61.67 L80.50,60.96 L81.07,60.27 L81.64,59.62 L82.21,58.99 L82.77,58.38 L83.34,57.80 L83.91,57.24 L84.48,56.71 L85.05,56.20 L85.62,55.70 L86.18,55.23 L86.75,54.78 L87.32,54.35 L87.89,53.93 L88.46,53.53 L89.02,53.15 L89.59,52.78 L90.16,52.43 L90.73,52.09 L91.30,51.77 L91.87,51.46 L92.43,51.16 L93.00,50.88 L93.57,50.60 L94.14,50.34 L94.71,50.09 L95.27,49.85 L95.84,49.62 L96.41,49.41 L96.98,49.20 L97.55,49.00 L98.12,48.80 L98.68,48.62 L99.25,48.45 L99.82,48.28 L100.39,48.12 L100.96,47.97 L101.52,47.82 L102.09,47.68 L102.66,47.55 L103.23,47.43 L103.80,47.31 L104.37,47.19 L104.93,47.08 L105.50,46.98 L106.07,46.88 L106.64,46.79 L107.21,46.70 L107.77,46.61 L108.34,46.53 L108.91,46.46 L109.48,46.38 L110.05,46.32 L110.62,46.25 L111.18,46.19 L111.75,46.13 L112.32,46.08 L112.89,46.03 L113.46,45.98 L114.03,45.94 L119.21,45.64 L124.40,45.51 L129.58,45.48 L134.77,45.54 L139.96,45.63 L145.14,45.76 L150.33,45.91 L155.52,46.06 L160.70,46.22 L165.89,46.37 L171.08,46.52 L176.26,46.66 L181.45,46.80 L186.64,46.92 L191.82,47.04 L197.01,47.16 L202.20,47.27 L207.38,47.37 L212.57,47.46 L217.76,47.55 L222.94,47.63 L228.13,47.71 L233.32,47.79 L238.50,47.86 L243.69,47.93 L248.87,48.00 L254.06,48.06 L259.25,48.13 L264.43,48.19 L269.62,48.24 L274.81,48.30 L279.99,48.36 L285.18,48.41 L290.37,48.47 L295.55,48.52 L300.74,48.58 L305.93,48.63 L311.11,48.68 L316.30,48.73" fill="none" stroke="#2ca02c" stroke-width="2.6" stroke-dasharray="9.6 4.1" stroke-linejoin="round" clip-path="url(#clipa)"/>
<path d="M63.46,83.07 L64.02,81.16 L64.59,79.30 L65.16,77.49 L65.73,75.73 L66.30,74.02 L66.87,72.36 L67.43,70.75 L68.00,69.19 L68.57,67.68 L69.14,66.22 L69.71,64.81 L70.27,63.44 L70.84,62.12 L71.41,60.84 L71.98,59.61 L72.55,58.42 L73.12,57.28 L73.68,56.17 L74.25,55.11 L74.82,54.08 L75.39,53.10 L75.96,52.15 L76.52,51.24 L77.09,50.36 L77.66,49.52 L78.23,48.71 L78.80,47.93 L79.37,47.18 L79.93,46.47 L80.50,45.79 L81.07,45.13 L81.64,44.50 L82.21,43.90 L82.77,43.33 L83.34,42.78 L83.91,42.25 L84.48,41.75 L85.05,41.27 L85.62,40.82 L86.18,40.38 L86.75,39.97 L87.32,39.58 L87.89,39.20 L88.46,38.85 L89.02,38.51 L89.59,38.19 L90.16,37.89 L90.73,37.60 L91.30,37.33 L91.87,37.07 L92.43,36.83 L93.00,36.60 L93.57,36.39 L94.14,36.19 L94.71,36.00 L95.27,35.82 L95.84,35.66 L96.41,35.51 L96.98,35.36 L97.55,35.23 L98.12,35.11 L98.68,35.00 L99.25,34.89 L99.82,34.80 L100.39,34.71 L100.96,34.63 L101.52,34.56 L102.09,34.50 L102.66,34.44 L103.23,34.39 L103.80,34.35 L104.37,34.31 L104.93,34.29 L105.50,34.26 L106.07,34.24 L106.64,34.23 L107.21,34.22 L107.77,34.22 L108.34,34.22 L108.91,34.23 L109.48,34.24 L110.05,34.25 L110.62,34.27 L111.18,34.29 L111.75,34.32 L112.32,34.35 L112.89,34.38 L113.46,34.41 L114.03,34.45 L119.21,34.91 L124.40,35.52 L129.58,36.20 L134.77,36.91 L139.96,37.64 L145.14,38.34 L150.33,39.02 L155.52,39.66 L160.70,40.26 L165.89,40.82 L171.08,41.34 L176.26,41.83 L181.45,42.27 L186.64,42.69 L191.82,43.07 L197.01,43.42 L202.20,43.75 L207.38,44.05 L212.57,44.34 L217.76,44.60 L222.94,44.85 L228.13,45.09 L233.32,45.32 L238.50,45.53 L243.69,45.73 L248.87,45.93 L254.06,46.12 L259.25,46.30 L264.43,46.48 L269.62,46.65 L274.81,46.82 L279.99,46.99 L285.18,47.16 L290.37,47.32 L295.55,47.48 L300.74,47.64 L305.93,47.80 L311.11,47.95 L316.30,48.11" fill="none" stroke="#d62728" stroke-width="2.6" stroke-linejoin="round" clip-path="url(#clipa)"/>
<path d="M63.46,83.54 L64.02,81.90 L64.59,80.31 L65.16,78.78 L65.73,77.30 L66.30,75.86 L66.87,74.48 L67.43,73.14 L68.00,71.85 L68.57,70.60 L69.14,69.40 L69.71,68.23 L70.27,67.11 L70.84,66.03 L71.41,64.99 L71.98,63.98 L72.55,63.01 L73.12,62.08 L73.68,61.18 L74.25,60.31 L74.82,59.47 L75.39,58.66 L75.96,57.89 L76.52,57.14 L77.09,56.42 L77.66,55.73 L78.23,55.06 L78.80,54.42 L79.37,53.80 L79.93,53.21 L80.50,52.64 L81.07,52.09 L81.64,51.56 L82.21,51.05 L82.77,50.57 L83.34,50.10 L83.91,49.65 L84.48,49.22 L85.05,48.80 L85.62,48.40 L86.18,48.02 L86.75,47.66 L87.32,47.30 L87.89,46.97 L88.46,46.64 L89.02,46.33 L89.59,46.04 L90.16,45.75 L90.73,45.48 L91.30,45.22 L91.87,44.97 L92.43,44.74 L93.00,44.51 L93.57,44.29 L94.14,44.09 L94.71,43.89 L95.27,43.70 L95.84,43.52 L96.41,43.35 L96.98,43.18 L97.55,43.03 L98.12,42.88 L98.68,42.74 L99.25,42.61 L99.82,42.48 L100.39,42.36 L100.96,42.24 L101.52,42.14 L102.09,42.03 L102.66,41.94 L103.23,41.85 L103.80,41.76 L104.37,41.68 L104.93,41.61 L105.50,41.53 L106.07,41.47 L106.64,41.40 L107.21,41.35 L107.77,41.29 L108.34,41.24 L108.91,41.20 L109.48,41.15 L110.05,41.11 L110.62,41.08 L111.18,41.04 L111.75,41.01 L112.32,40.99 L112.89,40.96 L113.46,40.94 L114.03,40.92 L119.21,40.85 L124.40,40.93 L129.58,41.11 L134.77,41.35 L139.96,41.63 L145.14,41.93 L150.33,42.24 L155.52,42.55 L160.70,42.86 L165.89,43.16 L171.08,43.45 L176.26,43.73 L181.45,43.99 L186.64,44.25 L191.82,44.49 L197.01,44.72 L202.20,44.94 L207.38,45.14 L212.57,45.34 L217.76,45.53 L222.94,45.71 L228.13,45.88 L233.32,46.05 L238.50,46.21 L243.69,46.36 L248.87,46.51 L254.06,46.65 L259.25,46.79 L264.43,46.92 L269.62,47.05 L274.81,47.18 L279.99,47.30 L285.18,47.42 L290.37,47.54 L295.55,47.66 L300.74,47.77 L305.93,47.89 L311.11,48.00 L316.30,48.10" fill="none" stroke="#d62728" stroke-width="2.6" stroke-dasharray="9.6 4.1" stroke-linejoin="round" clip-path="url(#clipa)"/>
<path d="M63.46,60.06 L64.02,59.61 L64.59,59.17 L65.16,58.75 L65.73,58.35 L66.30,57.97 L66.87,57.60 L67.43,57.24 L68.00,56.90 L68.57,56.57 L69.14,56.25 L69.71,55.95 L70.27,55.66 L70.84,55.38 L71.41,55.11 L71.98,54.85 L72.55,54.60 L73.12,54.36 L73.68,54.13 L74.25,53.91 L74.82,53.70 L75.39,53.49 L75.96,53.30 L76.52,53.11 L77.09,52.92 L77.66,52.75 L78.23,52.58 L78.80,52.42 L79.37,52.26 L79.93,52.11 L80.50,51.97 L81.07,51.83 L81.64,51.69 L82.21,51.56 L82.77,51.44 L83.34,51.32 L83.91,51.21 L84.48,51.10 L85.05,50.99 L85.62,50.89 L86.18,50.79 L86.75,50.70 L87.32,50.61 L87.89,50.52 L88.46,50.43 L89.02,50.35 L89.59,50.28 L90.16,50.20 L90.73,50.13 L91.30,50.06 L91.87,49.99 L92.43,49.93 L93.00,49.87 L93.57,49.81 L94.14,49.75 L94.71,49.70 L95.27,49.65 L95.84,49.60 L96.41,49.55 L96.98,49.50 L97.55,49.46 L98.12,49.41 L98.68,49.37 L99.25,49.33 L99.82,49.30 L100.39,49.26 L100.96,49.22 L101.52,49.19 L102.09,49.16 L102.66,49.13 L103.23,49.10 L103.80,49.07 L104.37,49.04 L104.93,49.02 L105.50,48.99 L106.07,48.97 L106.64,48.95 L107.21,48.93 L107.77,48.91 L108.34,48.89 L108.91,48.87 L109.48,48.85 L110.05,48.83 L110.62,48.82 L111.18,48.80 L111.75,48.79 L112.32,48.78 L112.89,48.76 L113.46,48.75 L114.03,48.74 L119.21,48.66 L124.40,48.62 L129.58,48.60 L134.77,48.61 L139.96,48.63 L145.14,48.66 L150.33,48.70 L155.52,48.73 L160.70,48.78 L165.89,48.82 L171.08,48.86 L176.26,48.90 L181.45,48.94 L186.64,48.98 L191.82,49.01 L197.01,49.05 L202.20,49.08 L207.38,49.11 L212.57,49.13 L217.76,49.16 L222.94,49.18 L228.13,49.20 L233.32,49.22 L238.50,49.24 L243.69,49.26 L248.87,49.27 L254.06,49.29 L259.25,49.30 L264.43,49.31 L269.62,49.32 L274.81,49.33 L279.99,49.33 L285.18,49.34 L290.37,49.34 L295.55,49.35 L300.74,49.35 L305.93,49.36 L311.11,49.36 L316.30,49.36" fill="none" stroke="#9467bd" stroke-width="2.6" stroke-linejoin="round" clip-path="url(#clipa)"/>
<path d="M63.46,59.58 L64.02,59.24 L64.59,58.91 L65.16,58.58 L65.73,58.27 L66.30,57.97 L66.87,57.69 L67.43,57.41 L68.00,57.14 L68.57,56.88 L69.14,56.63 L69.71,56.38 L70.27,56.15 L70.84,55.92 L71.41,55.71 L71.98,55.49 L72.55,55.29 L73.12,55.09 L73.68,54.90 L74.25,54.72 L74.82,54.54 L75.39,54.37 L75.96,54.21 L76.52,54.05 L77.09,53.90 L77.66,53.75 L78.23,53.60 L78.80,53.47 L79.37,53.33 L79.93,53.20 L80.50,53.08 L81.07,52.96 L81.64,52.84 L82.21,52.73 L82.77,52.62 L83.34,52.52 L83.91,52.42 L84.48,52.32 L85.05,52.23 L85.62,52.14 L86.18,52.05 L86.75,51.96 L87.32,51.88 L87.89,51.80 L88.46,51.73 L89.02,51.66 L89.59,51.59 L90.16,51.52 L90.73,51.45 L91.30,51.39 L91.87,51.33 L92.43,51.27 L93.00,51.21 L93.57,51.16 L94.14,51.11 L94.71,51.06 L95.27,51.01 L95.84,50.96 L96.41,50.92 L96.98,50.87 L97.55,50.83 L98.12,50.79 L98.68,50.75 L99.25,50.72 L99.82,50.68 L100.39,50.65 L100.96,50.61 L101.52,50.58 L102.09,50.55 L102.66,50.52 L103.23,50.50 L103.80,50.47 L104.37,50.44 L104.93,50.42 L105.50,50.40 L106.07,50.37 L106.64,50.35 L107.21,50.33 L107.77,50.31 L108.34,50.29 L108.91,50.27 L109.48,50.26 L110.05,50.24 L110.62,50.22 L111.18,50.21 L111.75,50.20 L112.32,50.18 L112.89,50.17 L113.46,50.16 L114.03,50.14 L119.21,50.06 L124.40,50.02 L129.58,50.00 L134.77,50.00 L139.96,50.02 L145.14,50.04 L150.33,50.06 L155.52,50.09 L160.70,50.12 L165.89,50.15 L171.08,50.18 L176.26,50.21 L181.45,50.23 L186.64,50.26 L191.82,50.27 L197.01,50.29 L202.20,50.30 L207.38,50.31 L212.57,50.32 L217.76,50.32 L222.94,50.32 L228.13,50.32 L233.32,50.31 L238.50,50.30 L243.69,50.29 L248.87,50.28 L254.06,50.27 L259.25,50.25 L264.43,50.24 L269.62,50.22 L274.81,50.20 L279.99,50.18 L285.18,50.15 L290.37,50.13 L295.55,50.11 L300.74,50.08 L305.93,50.05 L311.11,50.03 L316.30,50.00" fill="none" stroke="#9467bd" stroke-width="2.6" stroke-dasharray="9.6 4.1" stroke-linejoin="round" clip-path="url(#clipa)"/>
<path d="M63.46,86.75 L64.02,85.13 L64.59,83.53 L65.16,81.95 L65.73,80.39 L66.30,78.85 L66.87,77.33 L67.43,75.85 L68.00,74.39 L68.57,72.96 L69.14,71.56 L69.71,70.20 L70.27,68.86 L70.84,67.56 L71.41,66.29 L71.98,65.06 L72.55,63.85 L73.12,62.69 L73.68,61.55 L74.25,60.45 L74.82,59.38 L75.39,58.34 L75.96,57.34 L76.52,56.37 L77.09,55.42 L77.66,54.51 L78.23,53.63 L78.80,52.78 L79.37,51.96 L79.93,51.17 L80.50,50.41 L81.07,49.67 L81.64,48.96 L82.21,48.28 L82.77,47.62 L83.34,46.99 L83.91,46.38 L84.48,45.80 L85.05,45.24 L85.62,44.70 L86.18,44.18 L86.75,43.69 L87.32,43.21 L87.89,42.76 L88.46,42.32 L89.02,41.91 L89.59,41.51 L90.16,41.13 L90.73,40.77 L91.30,40.42 L91.87,40.09 L92.43,39.78 L93.00,39.48 L93.57,39.20 L94.14,38.93 L94.71,38.67 L95.27,38.43 L95.84,38.20 L96.41,37.99 L96.98,37.78 L97.55,37.59 L98.12,37.41 L98.68,37.24 L99.25,37.08 L99.82,36.93 L100.39,36.79 L100.96,36.65 L101.52,36.53 L102.09,36.42 L102.66,36.31 L103.23,36.22 L103.80,36.13 L104.37,36.04 L104.93,35.97 L105.50,35.90 L106.07,35.84 L106.64,35.79 L107.21,35.74 L107.77,35.70 L108.34,35.66 L108.91,35.63 L109.48,35.60 L110.05,35.58 L110.62,35.56 L111.18,35.55 L111.75,35.54 L112.32,35.54 L112.89,35.54 L113.46,35.55 L114.03,35.55 L119.21,35.78 L124.40,36.20 L129.58,36.73 L134.77,37.34 L139.96,37.97 L145.14,38.60 L150.33,39.22 L155.52,39.81 L160.70,40.37 L165.89,40.90 L171.08,41.39 L176.26,41.84 L181.45,42.26 L186.64,42.65 L191.82,43.01 L197.01,43.34 L202.20,43.65 L207.38,43.94 L212.57,44.21 L217.76,44.46 L222.94,44.70 L228.13,44.92 L233.32,45.14 L238.50,45.34 L243.69,45.54 L248.87,45.73 L254.06,45.91 L259.25,46.09 L264.43,46.27 L269.62,46.44 L274.81,46.61 L279.99,46.78 L285.18,46.95 L290.37,47.12 L295.55,47.29 L300.74,47.45 L305.93,47.62 L311.11,47.79 L316.30,47.96" fill="none" stroke="#8c564b" stroke-width="2.6" stroke-linejoin="round" clip-path="url(#clipa)"/>
<path d="M63.46,86.73 L64.02,85.32 L64.59,83.95 L65.16,82.63 L65.73,81.34 L66.30,80.08 L66.87,78.87 L67.43,77.69 L68.00,76.55 L68.57,75.44 L69.14,74.36 L69.71,73.31 L70.27,72.30 L70.84,71.32 L71.41,70.37 L71.98,69.44 L72.55,68.55 L73.12,67.68 L73.68,66.84 L74.25,66.03 L74.82,65.24 L75.39,64.47 L75.96,63.73 L76.52,63.01 L77.09,62.32 L77.66,61.64 L78.23,60.99 L78.80,60.36 L79.37,59.75 L79.93,59.16 L80.50,58.59 L81.07,58.03 L81.64,57.49 L82.21,56.98 L82.77,56.47 L83.34,55.99 L83.91,55.52 L84.48,55.06 L85.05,54.62 L85.62,54.19 L86.18,53.78 L86.75,53.38 L87.32,53.00 L87.89,52.62 L88.46,52.26 L89.02,51.92 L89.59,51.58 L90.16,51.25 L90.73,50.94 L91.30,50.63 L91.87,50.34 L92.43,50.06 L93.00,49.78 L93.57,49.52 L94.14,49.26 L94.71,49.01 L95.27,48.78 L95.84,48.55 L96.41,48.32 L96.98,48.11 L97.55,47.90 L98.12,47.70 L98.68,47.51 L99.25,47.32 L99.82,47.14 L100.39,46.97 L100.96,46.81 L101.52,46.65 L102.09,46.49 L102.66,46.34 L103.23,46.20 L103.80,46.06 L104.37,45.93 L104.93,45.80 L105.50,45.68 L106.07,45.56 L106.64,45.45 L107.21,45.34 L107.77,45.23 L108.34,45.13 L108.91,45.04 L109.48,44.94 L110.05,44.86 L110.62,44.77 L111.18,44.69 L111.75,44.61 L112.32,44.54 L112.89,44.46 L113.46,44.40 L114.03,44.33 L119.21,43.86 L124.40,43.58 L129.58,43.43 L134.77,43.39 L139.96,43.42 L145.14,43.51 L150.33,43.64 L155.52,43.79 L160.70,43.97 L165.89,44.15 L171.08,44.35 L176.26,44.54 L181.45,44.74 L186.64,44.93 L191.82,45.12 L197.01,45.31 L202.20,45.49 L207.38,45.66 L212.57,45.83 L217.76,45.99 L222.94,46.15 L228.13,46.30 L233.32,46.44 L238.50,46.58 L243.69,46.71 L248.87,46.84 L254.06,46.96 L259.25,47.07 L264.43,47.18 L269.62,47.29 L274.81,47.39 L279.99,47.49 L285.18,47.59 L290.37,47.68 L295.55,47.76 L300.74,47.85 L305.93,47.93 L311.11,48.00 L316.30,48.08" fill="none" stroke="#8c564b" stroke-width="2.6" stroke-dasharray="9.6 4.1" stroke-linejoin="round" clip-path="url(#clipa)"/>
<path d="M63.46,197.73 L64.02,195.15 L64.59,192.50 L65.16,189.79 L65.73,187.05 L66.30,184.27 L66.87,181.48 L67.43,178.67 L68.00,175.86 L68.57,173.05 L69.14,170.25 L69.71,167.46 L70.27,164.70 L70.84,161.96 L71.41,159.25 L71.98,156.57 L72.55,153.92 L73.12,151.32 L73.68,148.75 L74.25,146.22 L74.82,143.74 L75.39,141.30 L75.96,138.91 L76.52,136.57 L77.09,134.27 L77.66,132.02 L78.23,129.82 L78.80,127.66 L79.37,125.56 L79.93,123.50 L80.50,121.50 L81.07,119.54 L81.64,117.62 L82.21,115.76 L82.77,113.94 L83.34,112.17 L83.91,110.44 L84.48,108.76 L85.05,107.12 L85.62,105.53 L86.18,103.98 L86.75,102.47 L87.32,101.00 L87.89,99.58 L88.46,98.19 L89.02,96.84 L89.59,95.53 L90.16,94.26 L90.73,93.02 L91.30,91.82 L91.87,90.65 L92.43,89.52 L93.00,88.42 L93.57,87.35 L94.14,86.31 L94.71,85.31 L95.27,84.33 L95.84,83.38 L96.41,82.46 L96.98,81.57 L97.55,80.71 L98.12,79.87 L98.68,79.06 L99.25,78.27 L99.82,77.50 L100.39,76.76 L100.96,76.04 L101.52,75.34 L102.09,74.67 L102.66,74.01 L103.23,73.38 L103.80,72.76 L104.37,72.17 L104.93,71.59 L105.50,71.03 L106.07,70.48 L106.64,69.96 L107.21,69.45 L107.77,68.95 L108.34,68.47 L108.91,68.01 L109.48,67.56 L110.05,67.12 L110.62,66.70 L111.18,66.29 L111.75,65.89 L112.32,65.50 L112.89,65.13 L113.46,64.77 L114.03,64.42 L119.21,61.67 L124.40,59.59 L129.58,58.00 L134.77,56.76 L139.96,55.79 L145.14,55.01 L150.33,54.36 L155.52,53.82 L160.70,53.34 L165.89,52.92 L171.08,52.54 L176.26,52.19 L181.45,51.86 L186.64,51.56 L191.82,51.28 L197.01,51.01 L202.20,50.77 L207.38,50.54 L212.57,50.33 L217.76,50.14 L222.94,49.97 L228.13,49.82 L233.32,49.69 L238.50,49.58 L243.69,49.49 L248.87,49.42 L254.06,49.38 L259.25,49.35 L264.43,49.34 L269.62,49.36 L274.81,49.39 L279.99,49.45 L285.18,49.52 L290.37,49.62 L295.55,49.73 L300.74,49.86 L305.93,50.00 L311.11,50.17 L316.30,50.35" fill="none" stroke="#e377c2" stroke-width="2.6" stroke-linejoin="round" clip-path="url(#clipa)"/>
<path d="M63.46,214.49 L64.02,211.18 L64.59,207.88 L65.16,204.60 L65.73,201.35 L66.30,198.12 L66.87,194.93 L67.43,191.77 L68.00,188.65 L68.57,185.58 L69.14,182.55 L69.71,179.57 L70.27,176.63 L70.84,173.74 L71.41,170.91 L71.98,168.12 L72.55,165.39 L73.12,162.71 L73.68,160.08 L74.25,157.51 L74.82,154.99 L75.39,152.52 L75.96,150.10 L76.52,147.74 L77.09,145.43 L77.66,143.17 L78.23,140.96 L78.80,138.80 L79.37,136.69 L79.93,134.63 L80.50,132.62 L81.07,130.66 L81.64,128.74 L82.21,126.87 L82.77,125.05 L83.34,123.27 L83.91,121.53 L84.48,119.84 L85.05,118.19 L85.62,116.58 L86.18,115.01 L86.75,113.48 L87.32,111.99 L87.89,110.53 L88.46,109.12 L89.02,107.73 L89.59,106.39 L90.16,105.08 L90.73,103.80 L91.30,102.55 L91.87,101.34 L92.43,100.16 L93.00,99.01 L93.57,97.89 L94.14,96.79 L94.71,95.73 L95.27,94.69 L95.84,93.68 L96.41,92.70 L96.98,91.74 L97.55,90.80 L98.12,89.89 L98.68,89.01 L99.25,88.14 L99.82,87.30 L100.39,86.48 L100.96,85.68 L101.52,84.90 L102.09,84.15 L102.66,83.41 L103.23,82.69 L103.80,81.99 L104.37,81.30 L104.93,80.64 L105.50,79.99 L106.07,79.36 L106.64,78.74 L107.21,78.14 L107.77,77.56 L108.34,76.99 L108.91,76.43 L109.48,75.89 L110.05,75.36 L110.62,74.84 L111.18,74.34 L111.75,73.85 L112.32,73.37 L112.89,72.91 L113.46,72.45 L114.03,72.01 L119.21,68.43 L124.40,65.57 L129.58,63.25 L134.77,61.36 L139.96,59.80 L145.14,58.51 L150.33,57.42 L155.52,56.50 L160.70,55.72 L165.89,55.04 L171.08,54.44 L176.26,53.92 L181.45,53.46 L186.64,53.05 L191.82,52.69 L197.01,52.37 L202.20,52.07 L207.38,51.81 L212.57,51.58 L217.76,51.37 L222.94,51.19 L228.13,51.03 L233.32,50.89 L238.50,50.76 L243.69,50.66 L248.87,50.57 L254.06,50.50 L259.25,50.44 L264.43,50.40 L269.62,50.37 L274.81,50.36 L279.99,50.36 L285.18,50.37 L290.37,50.39 L295.55,50.42 L300.74,50.47 L305.93,50.52 L311.11,50.59 L316.30,50.66" fill="none" stroke="#e377c2" stroke-width="2.6" stroke-dasharray="9.6 4.1" stroke-linejoin="round" clip-path="url(#clipa)"/>
<path d="M63.46,256.96 L64.02,252.54 L64.59,248.25 L65.16,244.07 L65.73,239.99 L66.30,236.03 L66.87,232.17 L67.43,228.41 L68.00,224.74 L68.57,221.16 L69.14,217.68 L69.71,214.28 L70.27,210.97 L70.84,207.74 L71.41,204.58 L71.98,201.51 L72.55,198.50 L73.12,195.57 L73.68,192.71 L74.25,189.91 L74.82,187.19 L75.39,184.52 L75.96,181.92 L76.52,179.37 L77.09,176.89 L77.66,174.46 L78.23,172.09 L78.80,169.77 L79.37,167.50 L79.93,165.29 L80.50,163.12 L81.07,161.00 L81.64,158.93 L82.21,156.91 L82.77,154.93 L83.34,152.99 L83.91,151.09 L84.48,149.24 L85.05,147.43 L85.62,145.65 L86.18,143.92 L86.75,142.22 L87.32,140.56 L87.89,138.93 L88.46,137.34 L89.02,135.78 L89.59,134.26 L90.16,132.77 L90.73,131.31 L91.30,129.88 L91.87,128.48 L92.43,127.11 L93.00,125.76 L93.57,124.45 L94.14,123.16 L94.71,121.90 L95.27,120.67 L95.84,119.46 L96.41,118.28 L96.98,117.12 L97.55,115.98 L98.12,114.87 L98.68,113.78 L99.25,112.72 L99.82,111.67 L100.39,110.65 L100.96,109.64 L101.52,108.66 L102.09,107.70 L102.66,106.76 L103.23,105.83 L103.80,104.93 L104.37,104.04 L104.93,103.17 L105.50,102.32 L106.07,101.48 L106.64,100.67 L107.21,99.86 L107.77,99.08 L108.34,98.31 L108.91,97.55 L109.48,96.81 L110.05,96.09 L110.62,95.38 L111.18,94.68 L111.75,94.00 L112.32,93.33 L112.89,92.67 L113.46,92.03 L114.03,91.39 L119.21,86.17 L124.40,81.80 L129.58,78.14 L134.77,75.06 L139.96,72.46 L145.14,70.26 L150.33,68.40 L155.52,66.82 L160.70,65.46 L165.89,64.30 L171.08,63.30 L176.26,62.43 L181.45,61.67 L186.64,61.00 L191.82,60.40 L197.01,59.87 L202.20,59.39 L207.38,58.95 L212.57,58.54 L217.76,58.16 L222.94,57.81 L228.13,57.47 L233.32,57.14 L238.50,56.83 L243.69,56.52 L248.87,56.22 L254.06,55.92 L259.25,55.62 L264.43,55.33 L269.62,55.03 L274.81,54.74 L279.99,54.44 L285.18,54.15 L290.37,53.85 L295.55,53.54 L300.74,53.24 L305.93,52.93 L311.11,52.62 L316.30,52.31" fill="none" stroke="#7f7f7f" stroke-width="2.6" stroke-linejoin="round" clip-path="url(#clipa)"/>
<path d="M63.46,248.02 L64.02,244.07 L64.59,240.21 L65.16,236.44 L65.73,232.76 L66.30,229.15 L66.87,225.63 L67.43,222.18 L68.00,218.81 L68.57,215.52 L69.14,212.30 L69.71,209.14 L70.27,206.06 L70.84,203.04 L71.41,200.09 L71.98,197.21 L72.55,194.38 L73.12,191.62 L73.68,188.91 L74.25,186.27 L74.82,183.68 L75.39,181.15 L75.96,178.67 L76.52,176.24 L77.09,173.86 L77.66,171.54 L78.23,169.26 L78.80,167.04 L79.37,164.85 L79.93,162.72 L80.50,160.63 L81.07,158.59 L81.64,156.58 L82.21,154.62 L82.77,152.70 L83.34,150.82 L83.91,148.98 L84.48,147.18 L85.05,145.42 L85.62,143.69 L86.18,142.00 L86.75,140.34 L87.32,138.72 L87.89,137.13 L88.46,135.58 L89.02,134.06 L89.59,132.56 L90.16,131.10 L90.73,129.67 L91.30,128.27 L91.87,126.90 L92.43,125.56 L93.00,124.24 L93.57,122.95 L94.14,121.69 L94.71,120.45 L95.27,119.24 L95.84,118.05 L96.41,116.89 L96.98,115.75 L97.55,114.63 L98.12,113.54 L98.68,112.47 L99.25,111.42 L99.82,110.39 L100.39,109.39 L100.96,108.40 L101.52,107.43 L102.09,106.49 L102.66,105.56 L103.23,104.65 L103.80,103.76 L104.37,102.89 L104.93,102.03 L105.50,101.19 L106.07,100.37 L106.64,99.57 L107.21,98.78 L107.77,98.01 L108.34,97.25 L108.91,96.51 L109.48,95.78 L110.05,95.07 L110.62,94.37 L111.18,93.69 L111.75,93.02 L112.32,92.36 L112.89,91.71 L113.46,91.08 L114.03,90.46 L119.21,85.35 L124.40,81.08 L129.58,77.51 L134.77,74.52 L139.96,72.01 L145.14,69.90 L150.33,68.11 L155.52,66.60 L160.70,65.31 L165.89,64.21 L171.08,63.26 L176.26,62.43 L181.45,61.72 L186.64,61.08 L191.82,60.52 L197.01,60.02 L202.20,59.56 L207.38,59.14 L212.57,58.75 L217.76,58.38 L222.94,58.03 L228.13,57.70 L233.32,57.38 L238.50,57.06 L243.69,56.75 L248.87,56.44 L254.06,56.14 L259.25,55.84 L264.43,55.53 L269.62,55.23 L274.81,54.92 L279.99,54.61 L285.18,54.30 L290.37,53.98 L295.55,53.66 L300.74,53.34 L305.93,53.02 L311.11,52.69 L316.30,52.36" fill="none" stroke="#7f7f7f" stroke-width="2.6" stroke-dasharray="9.6 4.1" stroke-linejoin="round" clip-path="url(#clipa)"/>
<path d="M401.53,30.98 L402.10,30.97 L402.67,30.99 L403.24,31.04 L403.81,31.11 L404.38,31.20 L404.95,31.31 L405.52,31.44 L406.09,31.58 L406.66,31.75 L407.23,31.92 L407.80,32.11 L408.37,32.30 L408.94,32.51 L409.51,32.73 L410.08,32.95 L410.65,33.18 L411.22,33.42 L411.79,33.67 L412.36,33.91 L412.94,34.17 L413.51,34.42 L414.08,34.68 L414.65,34.94 L415.22,35.21 L415.79,35.47 L416.36,35.74 L416.93,36.01 L417.50,36.28 L418.07,36.55 L418.64,36.81 L419.21,37.08 L419.78,37.35 L420.35,37.62 L420.92,37.88 L421.49,38.15 L422.06,38.41 L422.63,38.68 L423.20,38.94 L423.77,39.20 L424.35,39.46 L424.92,39.71 L425.49,39.97 L426.06,40.22 L426.63,40.47 L427.20,40.72 L427.77,40.96 L428.34,41.21 L428.91,41.45 L429.48,41.69 L430.05,41.93 L430.62,42.16 L431.19,42.39 L431.76,42.62 L432.33,42.85 L432.90,43.07 L433.47,43.30 L434.04,43.52 L434.61,43.74 L435.18,43.95 L435.76,44.16 L436.33,44.37 L436.90,44.58 L437.47,44.79 L438.04,44.99 L438.61,45.19 L439.18,45.39 L439.75,45.59 L440.32,45.78 L440.89,45.98 L441.46,46.17 L442.03,46.35 L442.60,46.54 L443.17,46.72 L443.74,46.90 L444.31,47.08 L444.88,47.26 L445.45,47.44 L446.02,47.61 L446.59,47.78 L447.17,47.95 L447.74,48.12 L448.31,48.28 L448.88,48.44 L449.45,48.61 L450.02,48.76 L450.59,48.92 L451.16,49.08 L451.73,49.23 L452.30,49.38 L457.51,50.69 L462.72,51.88 L467.92,52.94 L473.13,53.92 L478.34,54.80 L483.55,55.61 L488.75,56.35 L493.96,57.03 L499.17,57.66 L504.38,58.23 L509.58,58.77 L514.79,59.27 L520.00,59.73 L525.21,60.16 L530.42,60.56 L535.62,60.93 L540.83,61.28 L546.04,61.60 L551.25,61.90 L556.45,62.19 L561.66,62.45 L566.87,62.70 L572.08,62.93 L577.28,63.15 L582.49,63.35 L587.70,63.54 L592.91,63.72 L598.12,63.89 L603.32,64.04 L608.53,64.19 L613.74,64.33 L618.95,64.46 L624.15,64.58 L629.36,64.69 L634.57,64.79 L639.78,64.89 L644.98,64.98 L650.19,65.07 L655.40,65.15" fill="none" stroke="#1f77b4" stroke-width="2.6" stroke-linejoin="round" clip-path="url(#clipb)"/>
<path d="M401.53,31.73 L402.10,31.69 L402.67,31.69 L403.24,31.71 L403.81,31.77 L404.38,31.84 L404.95,31.94 L405.52,32.06 L406.09,32.20 L406.66,32.35 L407.23,32.52 L407.80,32.70 L408.37,32.90 L408.94,33.10 L409.51,33.32 L410.08,33.54 L410.65,33.78 L411.22,34.02 L411.79,34.26 L412.36,34.51 L412.94,34.77 L413.51,35.03 L414.08,35.29 L414.65,35.55 L415.22,35.82 L415.79,36.09 L416.36,36.36 L416.93,36.63 L417.50,36.90 L418.07,37.17 L418.64,37.45 L419.21,37.72 L419.78,37.99 L420.35,38.26 L420.92,38.53 L421.49,38.79 L422.06,39.06 L422.63,39.32 L423.20,39.59 L423.77,39.85 L424.35,40.11 L424.92,40.37 L425.49,40.62 L426.06,40.87 L426.63,41.12 L427.20,41.37 L427.77,41.62 L428.34,41.86 L428.91,42.10 L429.48,42.34 L430.05,42.58 L430.62,42.81 L431.19,43.04 L431.76,43.27 L432.33,43.50 L432.90,43.72 L433.47,43.94 L434.04,44.16 L434.61,44.37 L435.18,44.59 L435.76,44.80 L436.33,45.01 L436.90,45.21 L437.47,45.42 L438.04,45.62 L438.61,45.81 L439.18,46.01 L439.75,46.20 L440.32,46.39 L440.89,46.58 L441.46,46.77 L442.03,46.95 L442.60,47.14 L443.17,47.32 L443.74,47.49 L444.31,47.67 L444.88,47.84 L445.45,48.01 L446.02,48.18 L446.59,48.35 L447.17,48.51 L447.74,48.68 L448.31,48.84 L448.88,49.00 L449.45,49.15 L450.02,49.31 L450.59,49.46 L451.16,49.61 L451.73,49.76 L452.30,49.91 L457.51,51.18 L462.72,52.33 L467.92,53.36 L473.13,54.30 L478.34,55.16 L483.55,55.94 L488.75,56.66 L493.96,57.32 L499.17,57.93 L504.38,58.50 L509.58,59.02 L514.79,59.51 L520.00,59.96 L525.21,60.38 L530.42,60.78 L535.62,61.14 L540.83,61.48 L546.04,61.80 L551.25,62.10 L556.45,62.38 L561.66,62.64 L566.87,62.88 L572.08,63.10 L577.28,63.31 L582.49,63.51 L587.70,63.69 L592.91,63.86 L598.12,64.02 L603.32,64.17 L608.53,64.30 L613.74,64.43 L618.95,64.55 L624.15,64.66 L629.36,64.76 L634.57,64.85 L639.78,64.93 L644.98,65.01 L650.19,65.08 L655.40,65.15" fill="none" stroke="#1f77b4" stroke-width="2.6" stroke-dasharray="9.6 4.1" stroke-linejoin="round" clip-path="url(#clipb)"/>
<path d="M401.53,43.05 L402.10,42.24 L402.67,41.46 L403.24,40.73 L403.81,40.03 L404.38,39.37 L404.95,38.74 L405.52,38.15 L406.09,37.58 L406.66,37.05 L407.23,36.55 L407.80,36.08 L408.37,35.64 L408.94,35.22 L409.51,34.83 L410.08,34.47 L410.65,34.13 L411.22,33.82 L411.79,33.53 L412.36,33.26 L412.94,33.01 L413.51,32.79 L414.08,32.58 L414.65,32.40 L415.22,32.23 L415.79,32.08 L416.36,31.95 L416.93,31.83 L417.50,31.73 L418.07,31.64 L418.64,31.57 L419.21,31.51 L419.78,31.47 L420.35,31.44 L420.92,31.42 L421.49,31.41 L422.06,31.41 L422.63,31.43 L423.20,31.45 L423.77,31.49 L424.35,31.53 L424.92,31.58 L425.49,31.64 L426.06,31.71 L426.63,31.78 L427.20,31.87 L427.77,31.96 L428.34,32.05 L428.91,32.16 L429.48,32.27 L430.05,32.38 L430.62,32.50 L431.19,32.62 L431.76,32.75 L432.33,32.89 L432.90,33.02 L433.47,33.17 L434.04,33.31 L434.61,33.46 L435.18,33.61 L435.76,33.77 L436.33,33.93 L436.90,34.09 L437.47,34.25 L438.04,34.42 L438.61,34.58 L439.18,34.75 L439.75,34.93 L440.32,35.10 L440.89,35.28 L441.46,35.45 L442.03,35.63 L442.60,35.81 L443.17,35.99 L443.74,36.17 L444.31,36.35 L444.88,36.53 L445.45,36.72 L446.02,36.90 L446.59,37.08 L447.17,37.27 L447.74,37.45 L448.31,37.64 L448.88,37.82 L449.45,38.01 L450.02,38.19 L450.59,38.38 L451.16,38.56 L451.73,38.74 L452.30,38.93 L457.51,40.58 L462.72,42.18 L467.92,43.69 L473.13,45.12 L478.34,46.45 L483.55,47.68 L488.75,48.83 L493.96,49.89 L499.17,50.87 L504.38,51.77 L509.58,52.61 L514.79,53.38 L520.00,54.09 L525.21,54.75 L530.42,55.37 L535.62,55.94 L540.83,56.47 L546.04,56.96 L551.25,57.42 L556.45,57.86 L561.66,58.26 L566.87,58.65 L572.08,59.01 L577.28,59.35 L582.49,59.68 L587.70,59.99 L592.91,60.28 L598.12,60.56 L603.32,60.83 L608.53,61.09 L613.74,61.34 L618.95,61.58 L624.15,61.81 L629.36,62.03 L634.57,62.25 L639.78,62.46 L644.98,62.66 L650.19,62.86 L655.40,63.06" fill="none" stroke="#ff7f0e" stroke-width="2.6" stroke-linejoin="round" clip-path="url(#clipb)"/>
<path d="M401.53,38.52 L402.10,38.11 L402.67,37.72 L403.24,37.34 L403.81,36.98 L404.38,36.63 L404.95,36.30 L405.52,35.98 L406.09,35.68 L406.66,35.40 L407.23,35.13 L407.80,34.88 L408.37,34.64 L408.94,34.42 L409.51,34.21 L410.08,34.02 L410.65,33.84 L411.22,33.68 L411.79,33.53 L412.36,33.39 L412.94,33.27 L413.51,33.16 L414.08,33.07 L414.65,32.98 L415.22,32.91 L415.79,32.85 L416.36,32.80 L416.93,32.76 L417.50,32.73 L418.07,32.71 L418.64,32.70 L419.21,32.70 L419.78,32.71 L420.35,32.73 L420.92,32.76 L421.49,32.79 L422.06,32.83 L422.63,32.88 L423.20,32.94 L423.77,33.01 L424.35,33.08 L424.92,33.15 L425.49,33.24 L426.06,33.33 L426.63,33.42 L427.20,33.52 L427.77,33.62 L428.34,33.73 L428.91,33.85 L429.48,33.97 L430.05,34.09 L430.62,34.22 L431.19,34.35 L431.76,34.48 L432.33,34.62 L432.90,34.76 L433.47,34.90 L434.04,35.04 L434.61,35.19 L435.18,35.34 L435.76,35.50 L436.33,35.65 L436.90,35.81 L437.47,35.97 L438.04,36.13 L438.61,36.29 L439.18,36.45 L439.75,36.62 L440.32,36.78 L440.89,36.95 L441.46,37.12 L442.03,37.29 L442.60,37.46 L443.17,37.63 L443.74,37.80 L444.31,37.97 L444.88,38.14 L445.45,38.32 L446.02,38.49 L446.59,38.66 L447.17,38.84 L447.74,39.01 L448.31,39.18 L448.88,39.36 L449.45,39.53 L450.02,39.70 L450.59,39.87 L451.16,40.05 L451.73,40.22 L452.30,40.39 L457.51,41.94 L462.72,43.42 L467.92,44.83 L473.13,46.16 L478.34,47.40 L483.55,48.55 L488.75,49.62 L493.96,50.62 L499.17,51.53 L504.38,52.38 L509.58,53.17 L514.79,53.89 L520.00,54.56 L525.21,55.19 L530.42,55.77 L535.62,56.31 L540.83,56.81 L546.04,57.28 L551.25,57.72 L556.45,58.13 L561.66,58.52 L566.87,58.89 L572.08,59.23 L577.28,59.56 L582.49,59.88 L587.70,60.17 L592.91,60.46 L598.12,60.73 L603.32,60.99 L608.53,61.24 L613.74,61.49 L618.95,61.72 L624.15,61.95 L629.36,62.17 L634.57,62.38 L639.78,62.58 L644.98,62.79 L650.19,62.98 L655.40,63.17" fill="none" stroke="#ff7f0e" stroke-width="2.6" stroke-dasharray="9.6 4.1" stroke-linejoin="round" clip-path="url(#clipb)"/>
<path d="M401.53,200.04 L402.10,197.27 L402.67,194.54 L403.24,191.85 L403.81,189.20 L404.38,186.60 L404.95,184.04 L405.52,181.52 L406.09,179.05 L406.66,176.63 L407.23,174.26 L407.80,171.93 L408.37,169.65 L408.94,167.42 L409.51,165.24 L410.08,163.10 L410.65,161.01 L411.22,158.97 L411.79,156.98 L412.36,155.03 L412.94,153.13 L413.51,151.27 L414.08,149.45 L414.65,147.68 L415.22,145.95 L415.79,144.27 L416.36,142.62 L416.93,141.02 L417.50,139.45 L418.07,137.93 L418.64,136.44 L419.21,134.99 L419.78,133.57 L420.35,132.19 L420.92,130.85 L421.49,129.54 L422.06,128.26 L422.63,127.02 L423.20,125.81 L423.77,124.63 L424.35,123.47 L424.92,122.35 L425.49,121.26 L426.06,120.19 L426.63,119.15 L427.20,118.14 L427.77,117.16 L428.34,116.19 L428.91,115.26 L429.48,114.34 L430.05,113.45 L430.62,112.59 L431.19,111.74 L431.76,110.92 L432.33,110.11 L432.90,109.33 L433.47,108.57 L434.04,107.82 L434.61,107.09 L435.18,106.39 L435.76,105.70 L436.33,105.02 L436.90,104.36 L437.47,103.72 L438.04,103.10 L438.61,102.49 L439.18,101.89 L439.75,101.31 L440.32,100.74 L440.89,100.19 L441.46,99.65 L442.03,99.12 L442.60,98.61 L443.17,98.10 L443.74,97.61 L444.31,97.13 L444.88,96.66 L445.45,96.21 L446.02,95.76 L446.59,95.32 L447.17,94.89 L447.74,94.48 L448.31,94.07 L448.88,93.67 L449.45,93.28 L450.02,92.90 L450.59,92.52 L451.16,92.16 L451.73,91.80 L452.30,91.45 L457.51,88.58 L462.72,86.19 L467.92,84.18 L473.13,82.47 L478.34,81.00 L483.55,79.71 L488.75,78.58 L493.96,77.57 L499.17,76.67 L504.38,75.85 L509.58,75.12 L514.79,74.45 L520.00,73.83 L525.21,73.27 L530.42,72.76 L535.62,72.28 L540.83,71.85 L546.04,71.45 L551.25,71.09 L556.45,70.76 L561.66,70.46 L566.87,70.19 L572.08,69.94 L577.28,69.72 L582.49,69.52 L587.70,69.35 L592.91,69.19 L598.12,69.06 L603.32,68.95 L608.53,68.85 L613.74,68.77 L618.95,68.71 L624.15,68.67 L629.36,68.64 L634.57,68.62 L639.78,68.62 L644.98,68.63 L650.19,68.65 L655.40,68.69" fill="none" stroke="#2ca02c" stroke-width="2.6" stroke-linejoin="round" clip-path="url(#clipb)"/>
<path d="M401.53,172.91 L402.10,171.39 L402.67,169.84 L403.24,168.25 L403.81,166.65 L404.38,165.03 L404.95,163.39 L405.52,161.75 L406.09,160.11 L406.66,158.46 L407.23,156.82 L407.80,155.19 L408.37,153.57 L408.94,151.97 L409.51,150.37 L410.08,148.80 L410.65,147.24 L411.22,145.70 L411.79,144.18 L412.36,142.69 L412.94,141.21 L413.51,139.76 L414.08,138.34 L414.65,136.94 L415.22,135.56 L415.79,134.21 L416.36,132.89 L416.93,131.59 L417.50,130.32 L418.07,129.07 L418.64,127.85 L419.21,126.66 L419.78,125.49 L420.35,124.34 L420.92,123.22 L421.49,122.13 L422.06,121.06 L422.63,120.01 L423.20,118.99 L423.77,117.99 L424.35,117.02 L424.92,116.06 L425.49,115.13 L426.06,114.23 L426.63,113.34 L427.20,112.47 L427.77,111.63 L428.34,110.80 L428.91,110.00 L429.48,109.21 L430.05,108.45 L430.62,107.70 L431.19,106.97 L431.76,106.26 L432.33,105.56 L432.90,104.88 L433.47,104.22 L434.04,103.57 L434.61,102.94 L435.18,102.33 L435.76,101.73 L436.33,101.14 L436.90,100.57 L437.47,100.01 L438.04,99.47 L438.61,98.94 L439.18,98.42 L439.75,97.91 L440.32,97.42 L440.89,96.93 L441.46,96.46 L442.03,96.00 L442.60,95.55 L443.17,95.11 L443.74,94.68 L444.31,94.26 L444.88,93.85 L445.45,93.45 L446.02,93.06 L446.59,92.68 L447.17,92.31 L447.74,91.94 L448.31,91.58 L448.88,91.23 L449.45,90.89 L450.02,90.56 L450.59,90.23 L451.16,89.91 L451.73,89.60 L452.30,89.29 L457.51,86.77 L462.72,84.67 L467.92,82.89 L473.13,81.36 L478.34,80.03 L483.55,78.85 L488.75,77.80 L493.96,76.86 L499.17,76.00 L504.38,75.22 L509.58,74.50 L514.79,73.84 L520.00,73.22 L525.21,72.66 L530.42,72.14 L535.62,71.66 L540.83,71.22 L546.04,70.81 L551.25,70.44 L556.45,70.10 L561.66,69.79 L566.87,69.52 L572.08,69.27 L577.28,69.06 L582.49,68.87 L587.70,68.71 L592.91,68.57 L598.12,68.45 L603.32,68.36 L608.53,68.30 L613.74,68.25 L618.95,68.22 L624.15,68.22 L629.36,68.23 L634.57,68.26 L639.78,68.30 L644.98,68.37 L650.19,68.44 L655.40,68.54" fill="none" stroke="#2ca02c" stroke-width="2.6" stroke-dasharray="9.6 4.1" stroke-linejoin="round" clip-path="url(#clipb)"/>
<path d="M401.53,259.44 L402.10,255.55 L402.67,251.79 L403.24,248.18 L403.81,244.71 L404.38,241.35 L404.95,238.11 L405.52,234.99 L406.09,231.97 L406.66,229.04 L407.23,226.21 L407.80,223.47 L408.37,220.82 L408.94,218.24 L409.51,215.74 L410.08,213.32 L410.65,210.96 L411.22,208.67 L411.79,206.44 L412.36,204.27 L412.94,202.15 L413.51,200.09 L414.08,198.08 L414.65,196.13 L415.22,194.21 L415.79,192.35 L416.36,190.53 L416.93,188.75 L417.50,187.01 L418.07,185.31 L418.64,183.64 L419.21,182.01 L419.78,180.42 L420.35,178.86 L420.92,177.33 L421.49,175.83 L422.06,174.36 L422.63,172.93 L423.20,171.51 L423.77,170.13 L424.35,168.77 L424.92,167.44 L425.49,166.13 L426.06,164.85 L426.63,163.59 L427.20,162.35 L427.77,161.13 L428.34,159.94 L428.91,158.76 L429.48,157.61 L430.05,156.47 L430.62,155.36 L431.19,154.26 L431.76,153.18 L432.33,152.12 L432.90,151.08 L433.47,150.05 L434.04,149.04 L434.61,148.05 L435.18,147.07 L435.76,146.11 L436.33,145.16 L436.90,144.23 L437.47,143.31 L438.04,142.40 L438.61,141.51 L439.18,140.64 L439.75,139.77 L440.32,138.92 L440.89,138.08 L441.46,137.26 L442.03,136.45 L442.60,135.64 L443.17,134.86 L443.74,134.08 L444.31,133.31 L444.88,132.56 L445.45,131.81 L446.02,131.08 L446.59,130.36 L447.17,129.65 L447.74,128.94 L448.31,128.25 L448.88,127.57 L449.45,126.90 L450.02,126.24 L450.59,125.58 L451.16,124.94 L451.73,124.31 L452.30,123.68 L457.51,118.36 L462.72,113.67 L467.92,109.53 L473.13,105.86 L478.34,102.62 L483.55,99.74 L488.75,97.18 L493.96,94.90 L499.17,92.86 L504.38,91.04 L509.58,89.40 L514.79,87.93 L520.00,86.61 L525.21,85.41 L530.42,84.32 L535.62,83.34 L540.83,82.44 L546.04,81.61 L551.25,80.86 L556.45,80.16 L561.66,79.52 L566.87,78.92 L572.08,78.36 L577.28,77.84 L582.49,77.35 L587.70,76.89 L592.91,76.46 L598.12,76.05 L603.32,75.65 L608.53,75.28 L613.74,74.92 L618.95,74.57 L624.15,74.24 L629.36,73.92 L634.57,73.60 L639.78,73.30 L644.98,73.00 L650.19,72.71 L655.40,72.43" fill="none" stroke="#d62728" stroke-width="2.6" stroke-linejoin="round" clip-path="url(#clipb)"/>
<path d="M401.53,249.03 L402.10,246.88 L402.67,244.72 L403.24,242.54 L403.81,240.36 L404.38,238.17 L404.95,235.99 L405.52,233.80 L406.09,231.63 L406.66,229.46 L407.23,227.31 L407.80,225.17 L408.37,223.05 L408.94,220.94 L409.51,218.85 L410.08,216.78 L410.65,214.74 L411.22,212.71 L411.79,210.71 L412.36,208.73 L412.94,206.78 L413.51,204.85 L414.08,202.94 L414.65,201.06 L415.22,199.21 L415.79,197.39 L416.36,195.59 L416.93,193.81 L417.50,192.06 L418.07,190.34 L418.64,188.65 L419.21,186.98 L419.78,185.34 L420.35,183.72 L420.92,182.13 L421.49,180.57 L422.06,179.03 L422.63,177.52 L423.20,176.03 L423.77,174.56 L424.35,173.12 L424.92,171.71 L425.49,170.32 L426.06,168.95 L426.63,167.60 L427.20,166.28 L427.77,164.98 L428.34,163.70 L428.91,162.44 L429.48,161.21 L430.05,159.99 L430.62,158.80 L431.19,157.63 L431.76,156.47 L432.33,155.34 L432.90,154.22 L433.47,153.13 L434.04,152.05 L434.61,150.99 L435.18,149.95 L435.76,148.93 L436.33,147.92 L436.90,146.93 L437.47,145.96 L438.04,145.01 L438.61,144.07 L439.18,143.14 L439.75,142.23 L440.32,141.34 L440.89,140.46 L441.46,139.59 L442.03,138.74 L442.60,137.91 L443.17,137.08 L443.74,136.27 L444.31,135.48 L444.88,134.70 L445.45,133.92 L446.02,133.17 L446.59,132.42 L447.17,131.69 L447.74,130.96 L448.31,130.25 L448.88,129.55 L449.45,128.86 L450.02,128.18 L450.59,127.52 L451.16,126.86 L451.73,126.21 L452.30,125.58 L457.51,120.19 L462.72,115.48 L467.92,111.35 L473.13,107.70 L478.34,104.46 L483.55,101.56 L488.75,98.97 L493.96,96.64 L499.17,94.53 L504.38,92.62 L509.58,90.88 L514.79,89.30 L520.00,87.84 L525.21,86.52 L530.42,85.29 L535.62,84.17 L540.83,83.14 L546.04,82.18 L551.25,81.30 L556.45,80.49 L561.66,79.73 L566.87,79.04 L572.08,78.39 L577.28,77.80 L582.49,77.24 L587.70,76.73 L592.91,76.26 L598.12,75.82 L603.32,75.41 L608.53,75.03 L613.74,74.69 L618.95,74.37 L624.15,74.07 L629.36,73.80 L634.57,73.55 L639.78,73.32 L644.98,73.11 L650.19,72.91 L655.40,72.74" fill="none" stroke="#d62728" stroke-width="2.6" stroke-dasharray="9.6 4.1" stroke-linejoin="round" clip-path="url(#clipb)"/>
<path d="M53.38,449.25 L53.96,448.77 L54.55,448.31 L55.13,447.89 L55.71,447.49 L56.29,447.11 L56.88,446.76 L57.46,446.43 L58.04,446.12 L58.62,445.82 L59.21,445.55 L59.79,445.29 L60.37,445.04 L60.95,444.81 L61.54,444.59 L62.12,444.38 L62.70,444.19 L63.28,444.01 L63.87,443.84 L64.45,443.68 L65.03,443.52 L65.61,443.38 L66.20,443.25 L66.78,443.12 L67.36,443.00 L67.94,442.89 L68.53,442.78 L69.11,442.68 L69.69,442.59 L70.27,442.50 L70.86,442.42 L71.44,442.35 L72.02,442.27 L72.60,442.21 L73.19,442.15 L73.77,442.09 L74.35,442.04 L74.93,441.99 L75.52,441.94 L76.10,441.90 L76.68,441.86 L77.26,441.83 L77.85,441.80 L78.43,441.77 L79.01,441.74 L79.59,441.72 L80.18,441.70 L80.76,441.68 L81.34,441.67 L81.92,441.65 L82.51,441.64 L83.09,441.64 L83.67,441.63 L84.25,441.63 L84.84,441.63 L85.42,441.63 L86.00,441.63 L86.58,441.63 L87.17,441.64 L87.75,441.64 L88.33,441.65 L88.91,441.66 L89.50,441.68 L90.08,441.69 L90.66,441.70 L91.24,441.72 L91.83,441.74 L92.41,441.76 L92.99,441.78 L93.57,441.80 L94.16,441.82 L94.74,441.85 L95.32,441.87 L95.90,441.90 L96.49,441.92 L97.07,441.95 L97.65,441.98 L98.23,442.01 L98.82,442.04 L99.40,442.07 L99.98,442.10 L100.56,442.14 L101.15,442.17 L101.73,442.21 L102.31,442.24 L102.89,442.28 L103.48,442.31 L104.06,442.35 L104.64,442.39 L105.22,442.43 L110.54,442.81 L115.86,443.22 L121.18,443.65 L126.49,444.10 L131.81,444.56 L137.13,445.01 L142.45,445.47 L147.76,445.91 L153.08,446.34 L158.40,446.75 L163.72,447.15 L169.03,447.53 L174.35,447.90 L179.67,448.24 L184.98,448.56 L190.30,448.87 L195.62,449.15 L200.94,449.42 L206.25,449.67 L211.57,449.89 L216.89,450.11 L222.21,450.30 L227.52,450.48 L232.84,450.64 L238.16,450.78 L243.47,450.91 L248.79,451.03 L254.11,451.13 L259.43,451.22 L264.74,451.30 L270.06,451.37 L275.38,451.43 L280.70,451.47 L286.01,451.51 L291.33,451.53 L296.65,451.55 L301.97,451.56 L307.28,451.56 L312.60,451.55" fill="none" stroke="#1f77b4" stroke-width="2.6" stroke-linejoin="round" clip-path="url(#clipc)"/>
<path d="M53.38,496.67 L53.96,495.58 L54.55,494.51 L55.13,493.46 L55.71,492.43 L56.29,491.42 L56.88,490.43 L57.46,489.46 L58.04,488.50 L58.62,487.57 L59.21,486.66 L59.79,485.76 L60.37,484.89 L60.95,484.03 L61.54,483.20 L62.12,482.38 L62.70,481.58 L63.28,480.80 L63.87,480.04 L64.45,479.29 L65.03,478.57 L65.61,477.86 L66.20,477.16 L66.78,476.49 L67.36,475.83 L67.94,475.18 L68.53,474.56 L69.11,473.94 L69.69,473.35 L70.27,472.76 L70.86,472.20 L71.44,471.64 L72.02,471.10 L72.60,470.57 L73.19,470.06 L73.77,469.56 L74.35,469.07 L74.93,468.60 L75.52,468.14 L76.10,467.68 L76.68,467.24 L77.26,466.82 L77.85,466.40 L78.43,465.99 L79.01,465.59 L79.59,465.21 L80.18,464.83 L80.76,464.46 L81.34,464.11 L81.92,463.76 L82.51,463.42 L83.09,463.09 L83.67,462.77 L84.25,462.46 L84.84,462.15 L85.42,461.85 L86.00,461.56 L86.58,461.28 L87.17,461.01 L87.75,460.74 L88.33,460.48 L88.91,460.22 L89.50,459.98 L90.08,459.73 L90.66,459.50 L91.24,459.27 L91.83,459.05 L92.41,458.83 L92.99,458.62 L93.57,458.41 L94.16,458.21 L94.74,458.02 L95.32,457.83 L95.90,457.64 L96.49,457.46 L97.07,457.28 L97.65,457.11 L98.23,456.95 L98.82,456.78 L99.40,456.63 L99.98,456.47 L100.56,456.32 L101.15,456.17 L101.73,456.03 L102.31,455.89 L102.89,455.76 L103.48,455.62 L104.06,455.50 L104.64,455.37 L105.22,455.25 L110.54,454.27 L115.86,453.50 L121.18,452.89 L126.49,452.42 L131.81,452.04 L137.13,451.75 L142.45,451.52 L147.76,451.34 L153.08,451.21 L158.40,451.10 L163.72,451.03 L169.03,450.97 L174.35,450.94 L179.67,450.91 L184.98,450.90 L190.30,450.90 L195.62,450.90 L200.94,450.91 L206.25,450.93 L211.57,450.95 L216.89,450.97 L222.21,450.99 L227.52,451.02 L232.84,451.05 L238.16,451.08 L243.47,451.11 L248.79,451.14 L254.11,451.18 L259.43,451.21 L264.74,451.24 L270.06,451.28 L275.38,451.31 L280.70,451.35 L286.01,451.38 L291.33,451.42 L296.65,451.45 L301.97,451.49 L307.28,451.53 L312.60,451.56" fill="none" stroke="#1f77b4" stroke-width="2.6" stroke-dasharray="9.6 4.1" stroke-linejoin="round" clip-path="url(#clipc)"/>
<path d="M53.38,460.00 L53.96,459.66 L54.55,459.34 L55.13,459.02 L55.71,458.72 L56.29,458.43 L56.88,458.16 L57.46,457.89 L58.04,457.63 L58.62,457.38 L59.21,457.15 L59.79,456.92 L60.37,456.71 L60.95,456.50 L61.54,456.30 L62.12,456.11 L62.70,455.93 L63.28,455.76 L63.87,455.60 L64.45,455.44 L65.03,455.29 L65.61,455.15 L66.20,455.02 L66.78,454.89 L67.36,454.77 L67.94,454.66 L68.53,454.55 L69.11,454.45 L69.69,454.35 L70.27,454.26 L70.86,454.17 L71.44,454.09 L72.02,454.02 L72.60,453.95 L73.19,453.88 L73.77,453.82 L74.35,453.76 L74.93,453.71 L75.52,453.66 L76.10,453.61 L76.68,453.57 L77.26,453.53 L77.85,453.49 L78.43,453.45 L79.01,453.42 L79.59,453.40 L80.18,453.37 L80.76,453.35 L81.34,453.33 L81.92,453.31 L82.51,453.29 L83.09,453.28 L83.67,453.27 L84.25,453.26 L84.84,453.25 L85.42,453.24 L86.00,453.24 L86.58,453.23 L87.17,453.23 L87.75,453.23 L88.33,453.23 L88.91,453.23 L89.50,453.23 L90.08,453.24 L90.66,453.24 L91.24,453.25 L91.83,453.25 L92.41,453.26 L92.99,453.27 L93.57,453.28 L94.16,453.29 L94.74,453.30 L95.32,453.31 L95.90,453.32 L96.49,453.33 L97.07,453.34 L97.65,453.35 L98.23,453.37 L98.82,453.38 L99.40,453.39 L99.98,453.41 L100.56,453.42 L101.15,453.44 L101.73,453.45 L102.31,453.46 L102.89,453.48 L103.48,453.49 L104.06,453.51 L104.64,453.52 L105.22,453.54 L110.54,453.68 L115.86,453.80 L121.18,453.92 L126.49,454.02 L131.81,454.09 L137.13,454.15 L142.45,454.19 L147.76,454.22 L153.08,454.23 L158.40,454.23 L163.72,454.21 L169.03,454.19 L174.35,454.16 L179.67,454.13 L184.98,454.09 L190.30,454.04 L195.62,454.00 L200.94,453.95 L206.25,453.90 L211.57,453.85 L216.89,453.80 L222.21,453.76 L227.52,453.71 L232.84,453.67 L238.16,453.62 L243.47,453.58 L248.79,453.54 L254.11,453.51 L259.43,453.47 L264.74,453.44 L270.06,453.41 L275.38,453.39 L280.70,453.36 L286.01,453.34 L291.33,453.32 L296.65,453.31 L301.97,453.29 L307.28,453.28 L312.60,453.27" fill="none" stroke="#ff7f0e" stroke-width="2.6" stroke-linejoin="round" clip-path="url(#clipc)"/>
<path d="M53.38,502.81 L53.96,502.06 L54.55,501.28 L55.13,500.49 L55.71,499.69 L56.29,498.88 L56.88,498.06 L57.46,497.23 L58.04,496.41 L58.62,495.58 L59.21,494.76 L59.79,493.94 L60.37,493.12 L60.95,492.31 L61.54,491.51 L62.12,490.72 L62.70,489.94 L63.28,489.17 L63.87,488.41 L64.45,487.66 L65.03,486.93 L65.61,486.21 L66.20,485.50 L66.78,484.80 L67.36,484.12 L67.94,483.45 L68.53,482.80 L69.11,482.16 L69.69,481.53 L70.27,480.92 L70.86,480.32 L71.44,479.73 L72.02,479.16 L72.60,478.60 L73.19,478.06 L73.77,477.53 L74.35,477.01 L74.93,476.51 L75.52,476.01 L76.10,475.53 L76.68,475.07 L77.26,474.61 L77.85,474.17 L78.43,473.74 L79.01,473.32 L79.59,472.91 L80.18,472.51 L80.76,472.12 L81.34,471.74 L81.92,471.38 L82.51,471.02 L83.09,470.67 L83.67,470.33 L84.25,470.01 L84.84,469.69 L85.42,469.38 L86.00,469.07 L86.58,468.78 L87.17,468.49 L87.75,468.21 L88.33,467.94 L88.91,467.68 L89.50,467.43 L90.08,467.18 L90.66,466.93 L91.24,466.70 L91.83,466.47 L92.41,466.25 L92.99,466.03 L93.57,465.82 L94.16,465.61 L94.74,465.42 L95.32,465.22 L95.90,465.03 L96.49,464.85 L97.07,464.67 L97.65,464.50 L98.23,464.33 L98.82,464.16 L99.40,464.00 L99.98,463.84 L100.56,463.69 L101.15,463.54 L101.73,463.40 L102.31,463.26 L102.89,463.12 L103.48,462.99 L104.06,462.86 L104.64,462.73 L105.22,462.60 L110.54,461.60 L115.86,460.79 L121.18,460.11 L126.49,459.54 L131.81,459.05 L137.13,458.62 L142.45,458.23 L147.76,457.87 L153.08,457.54 L158.40,457.23 L163.72,456.94 L169.03,456.66 L174.35,456.40 L179.67,456.15 L184.98,455.91 L190.30,455.69 L195.62,455.48 L200.94,455.28 L206.25,455.10 L211.57,454.92 L216.89,454.76 L222.21,454.61 L227.52,454.47 L232.84,454.34 L238.16,454.22 L243.47,454.12 L248.79,454.02 L254.11,453.94 L259.43,453.87 L264.74,453.81 L270.06,453.75 L275.38,453.71 L280.70,453.68 L286.01,453.65 L291.33,453.64 L296.65,453.63 L301.97,453.63 L307.28,453.64 L312.60,453.66" fill="none" stroke="#ff7f0e" stroke-width="2.6" stroke-dasharray="9.6 4.1" stroke-linejoin="round" clip-path="url(#clipc)"/>
<path d="M53.38,372.06 L53.96,372.90 L54.55,373.75 L55.13,374.60 L55.71,375.45 L56.29,376.30 L56.88,377.16 L57.46,378.01 L58.04,378.86 L58.62,379.70 L59.21,380.55 L59.79,381.38 L60.37,382.22 L60.95,383.05 L61.54,383.87 L62.12,384.68 L62.70,385.49 L63.28,386.29 L63.87,387.09 L64.45,387.88 L65.03,388.65 L65.61,389.43 L66.20,390.19 L66.78,390.94 L67.36,391.69 L67.94,392.43 L68.53,393.15 L69.11,393.87 L69.69,394.58 L70.27,395.29 L70.86,395.98 L71.44,396.66 L72.02,397.34 L72.60,398.01 L73.19,398.66 L73.77,399.31 L74.35,399.95 L74.93,400.58 L75.52,401.21 L76.10,401.82 L76.68,402.43 L77.26,403.03 L77.85,403.62 L78.43,404.20 L79.01,404.77 L79.59,405.34 L80.18,405.89 L80.76,406.44 L81.34,406.98 L81.92,407.52 L82.51,408.04 L83.09,408.56 L83.67,409.07 L84.25,409.58 L84.84,410.08 L85.42,410.57 L86.00,411.05 L86.58,411.53 L87.17,412.00 L87.75,412.46 L88.33,412.92 L88.91,413.37 L89.50,413.81 L90.08,414.25 L90.66,414.68 L91.24,415.10 L91.83,415.52 L92.41,415.94 L92.99,416.35 L93.57,416.75 L94.16,417.14 L94.74,417.53 L95.32,417.92 L95.90,418.30 L96.49,418.68 L97.07,419.04 L97.65,419.41 L98.23,419.77 L98.82,420.12 L99.40,420.47 L99.98,420.82 L100.56,421.16 L101.15,421.50 L101.73,421.83 L102.31,422.15 L102.89,422.48 L103.48,422.79 L104.06,423.11 L104.64,423.42 L105.22,423.72 L110.54,426.34 L115.86,428.66 L121.18,430.73 L126.49,432.58 L131.81,434.24 L137.13,435.73 L142.45,437.08 L147.76,438.30 L153.08,439.41 L158.40,440.41 L163.72,441.32 L169.03,442.16 L174.35,442.92 L179.67,443.61 L184.98,444.25 L190.30,444.83 L195.62,445.37 L200.94,445.85 L206.25,446.30 L211.57,446.72 L216.89,447.10 L222.21,447.45 L227.52,447.77 L232.84,448.06 L238.16,448.33 L243.47,448.58 L248.79,448.81 L254.11,449.02 L259.43,449.21 L264.74,449.38 L270.06,449.54 L275.38,449.69 L280.70,449.82 L286.01,449.95 L291.33,450.06 L296.65,450.16 L301.97,450.25 L307.28,450.33 L312.60,450.40" fill="none" stroke="#2ca02c" stroke-width="2.6" stroke-linejoin="round" clip-path="url(#clipc)"/>
<path d="M53.38,381.47 L53.96,382.37 L54.55,383.25 L55.13,384.10 L55.71,384.94 L56.29,385.75 L56.88,386.54 L57.46,387.32 L58.04,388.07 L58.62,388.81 L59.21,389.54 L59.79,390.25 L60.37,390.95 L60.95,391.63 L61.54,392.31 L62.12,392.97 L62.70,393.62 L63.28,394.26 L63.87,394.89 L64.45,395.51 L65.03,396.12 L65.61,396.73 L66.20,397.32 L66.78,397.91 L67.36,398.49 L67.94,399.06 L68.53,399.63 L69.11,400.18 L69.69,400.73 L70.27,401.28 L70.86,401.81 L71.44,402.35 L72.02,402.87 L72.60,403.39 L73.19,403.90 L73.77,404.41 L74.35,404.91 L74.93,405.41 L75.52,405.90 L76.10,406.39 L76.68,406.87 L77.26,407.34 L77.85,407.81 L78.43,408.28 L79.01,408.74 L79.59,409.19 L80.18,409.64 L80.76,410.09 L81.34,410.53 L81.92,410.97 L82.51,411.40 L83.09,411.83 L83.67,412.25 L84.25,412.67 L84.84,413.08 L85.42,413.49 L86.00,413.89 L86.58,414.30 L87.17,414.69 L87.75,415.08 L88.33,415.47 L88.91,415.86 L89.50,416.24 L90.08,416.61 L90.66,416.98 L91.24,417.35 L91.83,417.71 L92.41,418.07 L92.99,418.43 L93.57,418.78 L94.16,419.13 L94.74,419.48 L95.32,419.82 L95.90,420.15 L96.49,420.49 L97.07,420.82 L97.65,421.14 L98.23,421.46 L98.82,421.78 L99.40,422.10 L99.98,422.41 L100.56,422.72 L101.15,423.02 L101.73,423.32 L102.31,423.62 L102.89,423.92 L103.48,424.21 L104.06,424.50 L104.64,424.78 L105.22,425.06 L110.54,427.49 L115.86,429.68 L121.18,431.65 L126.49,433.42 L131.81,435.01 L137.13,436.44 L142.45,437.73 L147.76,438.90 L153.08,439.94 L158.40,440.89 L163.72,441.74 L169.03,442.51 L174.35,443.22 L179.67,443.85 L184.98,444.43 L190.30,444.96 L195.62,445.44 L200.94,445.88 L206.25,446.28 L211.57,446.65 L216.89,446.99 L222.21,447.30 L227.52,447.59 L232.84,447.86 L238.16,448.11 L243.47,448.35 L248.79,448.56 L254.11,448.77 L259.43,448.96 L264.74,449.14 L270.06,449.31 L275.38,449.47 L280.70,449.62 L286.01,449.76 L291.33,449.90 L296.65,450.03 L301.97,450.16 L307.28,450.28 L312.60,450.40" fill="none" stroke="#2ca02c" stroke-width="2.6" stroke-dasharray="9.6 4.1" stroke-linejoin="round" clip-path="url(#clipc)"/>
<path d="M53.38,596.13 L53.96,593.82 L54.55,591.50 L55.13,589.18 L55.71,586.87 L56.29,584.55 L56.88,582.26 L57.46,579.97 L58.04,577.71 L58.62,575.46 L59.21,573.24 L59.79,571.05 L60.37,568.88 L60.95,566.75 L61.54,564.64 L62.12,562.57 L62.70,560.53 L63.28,558.53 L63.87,556.56 L64.45,554.62 L65.03,552.73 L65.61,550.86 L66.20,549.04 L66.78,547.25 L67.36,545.49 L67.94,543.77 L68.53,542.09 L69.11,540.44 L69.69,538.83 L70.27,537.25 L70.86,535.71 L71.44,534.20 L72.02,532.73 L72.60,531.29 L73.19,529.88 L73.77,528.50 L74.35,527.15 L74.93,525.84 L75.52,524.55 L76.10,523.30 L76.68,522.07 L77.26,520.87 L77.85,519.70 L78.43,518.56 L79.01,517.44 L79.59,516.35 L80.18,515.29 L80.76,514.25 L81.34,513.23 L81.92,512.24 L82.51,511.27 L83.09,510.33 L83.67,509.40 L84.25,508.50 L84.84,507.62 L85.42,506.76 L86.00,505.92 L86.58,505.10 L87.17,504.29 L87.75,503.51 L88.33,502.74 L88.91,501.99 L89.50,501.26 L90.08,500.55 L90.66,499.85 L91.24,499.16 L91.83,498.50 L92.41,497.84 L92.99,497.20 L93.57,496.58 L94.16,495.97 L94.74,495.37 L95.32,494.78 L95.90,494.21 L96.49,493.65 L97.07,493.10 L97.65,492.57 L98.23,492.04 L98.82,491.53 L99.40,491.02 L99.98,490.53 L100.56,490.04 L101.15,489.57 L101.73,489.11 L102.31,488.65 L102.89,488.20 L103.48,487.77 L104.06,487.34 L104.64,486.92 L105.22,486.50 L110.54,483.08 L115.86,480.16 L121.18,477.65 L126.49,475.45 L131.81,473.51 L137.13,471.78 L142.45,470.21 L147.76,468.79 L153.08,467.49 L158.40,466.30 L163.72,465.20 L169.03,464.18 L174.35,463.24 L179.67,462.37 L184.98,461.56 L190.30,460.82 L195.62,460.12 L200.94,459.48 L206.25,458.90 L211.57,458.35 L216.89,457.86 L222.21,457.41 L227.52,456.99 L232.84,456.62 L238.16,456.29 L243.47,455.99 L248.79,455.73 L254.11,455.49 L259.43,455.29 L264.74,455.12 L270.06,454.98 L275.38,454.86 L280.70,454.77 L286.01,454.71 L291.33,454.67 L296.65,454.65 L301.97,454.65 L307.28,454.67 L312.60,454.71" fill="none" stroke="#d62728" stroke-width="2.6" stroke-linejoin="round" clip-path="url(#clipc)"/>
<path d="M53.38,592.87 L53.96,590.53 L54.55,588.19 L55.13,585.85 L55.71,583.53 L56.29,581.21 L56.88,578.91 L57.46,576.64 L58.04,574.38 L58.62,572.15 L59.21,569.95 L59.79,567.78 L60.37,565.64 L60.95,563.53 L61.54,561.46 L62.12,559.42 L62.70,557.41 L63.28,555.45 L63.87,553.52 L64.45,551.62 L65.03,549.77 L65.61,547.95 L66.20,546.16 L66.78,544.42 L67.36,542.71 L67.94,541.04 L68.53,539.40 L69.11,537.80 L69.69,536.24 L70.27,534.71 L70.86,533.21 L71.44,531.75 L72.02,530.33 L72.60,528.93 L73.19,527.57 L73.77,526.24 L74.35,524.94 L74.93,523.68 L75.52,522.44 L76.10,521.23 L76.68,520.05 L77.26,518.90 L77.85,517.77 L78.43,516.68 L79.01,515.61 L79.59,514.56 L80.18,513.54 L80.76,512.54 L81.34,511.57 L81.92,510.62 L82.51,509.70 L83.09,508.79 L83.67,507.91 L84.25,507.05 L84.84,506.20 L85.42,505.38 L86.00,504.58 L86.58,503.79 L87.17,503.03 L87.75,502.28 L88.33,501.55 L88.91,500.84 L89.50,500.14 L90.08,499.46 L90.66,498.79 L91.24,498.14 L91.83,497.50 L92.41,496.88 L92.99,496.27 L93.57,495.68 L94.16,495.09 L94.74,494.52 L95.32,493.97 L95.90,493.42 L96.49,492.89 L97.07,492.37 L97.65,491.85 L98.23,491.35 L98.82,490.86 L99.40,490.38 L99.98,489.91 L100.56,489.45 L101.15,489.00 L101.73,488.56 L102.31,488.12 L102.89,487.70 L103.48,487.28 L104.06,486.87 L104.64,486.47 L105.22,486.08 L110.54,482.80 L115.86,480.00 L121.18,477.57 L126.49,475.44 L131.81,473.55 L137.13,471.84 L142.45,470.30 L147.76,468.89 L153.08,467.59 L158.40,466.39 L163.72,465.28 L169.03,464.25 L174.35,463.30 L179.67,462.41 L184.98,461.59 L190.30,460.82 L195.62,460.12 L200.94,459.46 L206.25,458.86 L211.57,458.31 L216.89,457.80 L222.21,457.34 L227.52,456.92 L232.84,456.54 L238.16,456.21 L243.47,455.91 L248.79,455.64 L254.11,455.41 L259.43,455.21 L264.74,455.04 L270.06,454.91 L275.38,454.80 L280.70,454.71 L286.01,454.66 L291.33,454.63 L296.65,454.62 L301.97,454.63 L307.28,454.66 L312.60,454.72" fill="none" stroke="#d62728" stroke-width="2.6" stroke-dasharray="9.6 4.1" stroke-linejoin="round" clip-path="url(#clipc)"/>
<path d="M399.74,363.47 L400.32,364.35 L400.91,365.22 L401.49,366.06 L402.07,366.88 L402.65,367.69 L403.23,368.47 L403.81,369.24 L404.39,369.99 L404.97,370.73 L405.56,371.44 L406.14,372.15 L406.72,372.83 L407.30,373.51 L407.88,374.17 L408.46,374.81 L409.04,375.45 L409.62,376.07 L410.21,376.68 L410.79,377.27 L411.37,377.86 L411.95,378.43 L412.53,379.00 L413.11,379.55 L413.69,380.10 L414.27,380.63 L414.86,381.15 L415.44,381.67 L416.02,382.17 L416.60,382.67 L417.18,383.16 L417.76,383.64 L418.34,384.11 L418.93,384.58 L419.51,385.04 L420.09,385.49 L420.67,385.93 L421.25,386.36 L421.83,386.79 L422.41,387.22 L422.99,387.63 L423.57,388.04 L424.16,388.44 L424.74,388.84 L425.32,389.23 L425.90,389.62 L426.48,390.00 L427.06,390.37 L427.64,390.74 L428.23,391.10 L428.81,391.46 L429.39,391.81 L429.97,392.16 L430.55,392.50 L431.13,392.84 L431.71,393.18 L432.29,393.50 L432.88,393.83 L433.46,394.15 L434.04,394.47 L434.62,394.78 L435.20,395.08 L435.78,395.39 L436.36,395.69 L436.94,395.98 L437.52,396.28 L438.11,396.56 L438.69,396.85 L439.27,397.13 L439.85,397.41 L440.43,397.68 L441.01,397.95 L441.59,398.22 L442.18,398.48 L442.76,398.74 L443.34,399.00 L443.92,399.25 L444.50,399.50 L445.08,399.75 L445.66,399.99 L446.24,400.23 L446.82,400.47 L447.41,400.71 L447.99,400.94 L448.57,401.17 L449.15,401.40 L449.73,401.62 L450.31,401.85 L450.89,402.07 L451.48,402.28 L456.78,404.15 L462.09,405.84 L467.39,407.36 L472.70,408.74 L478.00,409.99 L483.31,411.13 L488.62,412.16 L493.92,413.11 L499.23,413.97 L504.53,414.76 L509.84,415.48 L515.14,416.14 L520.45,416.74 L525.76,417.30 L531.06,417.80 L536.37,418.27 L541.67,418.69 L546.98,419.08 L552.28,419.44 L557.59,419.77 L562.90,420.07 L568.20,420.35 L573.51,420.60 L578.81,420.84 L584.12,421.05 L589.42,421.24 L594.73,421.42 L600.04,421.58 L605.34,421.73 L610.65,421.87 L615.95,421.99 L621.26,422.10 L626.57,422.20 L631.87,422.29 L637.18,422.37 L642.48,422.45 L647.79,422.51 L653.09,422.57 L658.40,422.62" fill="none" stroke="#1f77b4" stroke-width="2.6" stroke-linejoin="round" clip-path="url(#clipd)"/>
<path d="M399.74,374.97 L400.32,375.57 L400.91,376.15 L401.49,376.71 L402.07,377.27 L402.65,377.81 L403.23,378.33 L403.81,378.85 L404.39,379.36 L404.97,379.85 L405.56,380.34 L406.14,380.81 L406.72,381.28 L407.30,381.73 L407.88,382.18 L408.46,382.62 L409.04,383.05 L409.62,383.48 L410.21,383.89 L410.79,384.30 L411.37,384.71 L411.95,385.11 L412.53,385.50 L413.11,385.88 L413.69,386.26 L414.27,386.63 L414.86,387.00 L415.44,387.36 L416.02,387.72 L416.60,388.07 L417.18,388.42 L417.76,388.76 L418.34,389.10 L418.93,389.43 L419.51,389.76 L420.09,390.09 L420.67,390.41 L421.25,390.73 L421.83,391.04 L422.41,391.35 L422.99,391.66 L423.57,391.96 L424.16,392.26 L424.74,392.55 L425.32,392.85 L425.90,393.13 L426.48,393.42 L427.06,393.70 L427.64,393.98 L428.23,394.26 L428.81,394.53 L429.39,394.80 L429.97,395.07 L430.55,395.33 L431.13,395.60 L431.71,395.85 L432.29,396.11 L432.88,396.37 L433.46,396.62 L434.04,396.87 L434.62,397.11 L435.20,397.36 L435.78,397.60 L436.36,397.84 L436.94,398.07 L437.52,398.31 L438.11,398.54 L438.69,398.77 L439.27,399.00 L439.85,399.22 L440.43,399.44 L441.01,399.66 L441.59,399.88 L442.18,400.10 L442.76,400.32 L443.34,400.53 L443.92,400.74 L444.50,400.95 L445.08,401.15 L445.66,401.36 L446.24,401.56 L446.82,401.76 L447.41,401.96 L447.99,402.16 L448.57,402.35 L449.15,402.55 L449.73,402.74 L450.31,402.93 L450.89,403.12 L451.48,403.30 L456.78,404.93 L462.09,406.43 L467.39,407.80 L472.70,409.07 L478.00,410.23 L483.31,411.31 L488.62,412.30 L493.92,413.21 L499.23,414.05 L504.53,414.82 L509.84,415.53 L515.14,416.18 L520.45,416.78 L525.76,417.34 L531.06,417.85 L536.37,418.32 L541.67,418.75 L546.98,419.14 L552.28,419.51 L557.59,419.84 L562.90,420.14 L568.20,420.42 L573.51,420.68 L578.81,420.91 L584.12,421.13 L589.42,421.32 L594.73,421.50 L600.04,421.66 L605.34,421.80 L610.65,421.93 L615.95,422.05 L621.26,422.16 L626.57,422.25 L631.87,422.33 L637.18,422.41 L642.48,422.47 L647.79,422.53 L653.09,422.58 L658.40,422.62" fill="none" stroke="#1f77b4" stroke-width="2.6" stroke-dasharray="9.6 4.1" stroke-linejoin="round" clip-path="url(#clipd)"/>
<path d="M399.74,354.52 L400.32,355.51 L400.91,356.46 L401.49,357.39 L402.07,358.30 L402.65,359.18 L403.23,360.04 L403.81,360.87 L404.39,361.69 L404.97,362.48 L405.56,363.26 L406.14,364.01 L406.72,364.75 L407.30,365.47 L407.88,366.18 L408.46,366.87 L409.04,367.54 L409.62,368.20 L410.21,368.85 L410.79,369.48 L411.37,370.10 L411.95,370.71 L412.53,371.30 L413.11,371.89 L413.69,372.46 L414.27,373.02 L414.86,373.57 L415.44,374.11 L416.02,374.64 L416.60,375.17 L417.18,375.68 L417.76,376.18 L418.34,376.68 L418.93,377.17 L419.51,377.65 L420.09,378.12 L420.67,378.58 L421.25,379.04 L421.83,379.49 L422.41,379.93 L422.99,380.37 L423.57,380.80 L424.16,381.22 L424.74,381.64 L425.32,382.05 L425.90,382.46 L426.48,382.86 L427.06,383.25 L427.64,383.64 L428.23,384.02 L428.81,384.40 L429.39,384.78 L429.97,385.14 L430.55,385.51 L431.13,385.87 L431.71,386.22 L432.29,386.57 L432.88,386.92 L433.46,387.26 L434.04,387.60 L434.62,387.93 L435.20,388.26 L435.78,388.58 L436.36,388.90 L436.94,389.22 L437.52,389.53 L438.11,389.84 L438.69,390.15 L439.27,390.45 L439.85,390.75 L440.43,391.05 L441.01,391.34 L441.59,391.63 L442.18,391.92 L442.76,392.20 L443.34,392.48 L443.92,392.76 L444.50,393.03 L445.08,393.30 L445.66,393.57 L446.24,393.83 L446.82,394.10 L447.41,394.36 L447.99,394.61 L448.57,394.87 L449.15,395.12 L449.73,395.37 L450.31,395.61 L450.89,395.86 L451.48,396.10 L456.78,398.19 L462.09,400.10 L467.39,401.84 L472.70,403.44 L478.00,404.92 L483.31,406.27 L488.62,407.51 L493.92,408.66 L499.23,409.71 L504.53,410.69 L509.84,411.59 L515.14,412.42 L520.45,413.19 L525.76,413.89 L531.06,414.55 L536.37,415.15 L541.67,415.71 L546.98,416.23 L552.28,416.71 L557.59,417.15 L562.90,417.56 L568.20,417.93 L573.51,418.28 L578.81,418.60 L584.12,418.90 L589.42,419.17 L594.73,419.43 L600.04,419.66 L605.34,419.87 L610.65,420.07 L615.95,420.25 L621.26,420.42 L626.57,420.57 L631.87,420.71 L637.18,420.84 L642.48,420.95 L647.79,421.06 L653.09,421.15 L658.40,421.24" fill="none" stroke="#ff7f0e" stroke-width="2.6" stroke-linejoin="round" clip-path="url(#clipd)"/>
<path d="M399.74,339.06 L400.32,340.26 L400.91,341.45 L401.49,342.61 L402.07,343.75 L402.65,344.88 L403.23,345.98 L403.81,347.07 L404.39,348.13 L404.97,349.18 L405.56,350.21 L406.14,351.21 L406.72,352.20 L407.30,353.18 L407.88,354.13 L408.46,355.06 L409.04,355.98 L409.62,356.88 L410.21,357.77 L410.79,358.63 L411.37,359.49 L411.95,360.32 L412.53,361.14 L413.11,361.94 L413.69,362.73 L414.27,363.51 L414.86,364.27 L415.44,365.02 L416.02,365.75 L416.60,366.47 L417.18,367.17 L417.76,367.87 L418.34,368.55 L418.93,369.22 L419.51,369.87 L420.09,370.52 L420.67,371.15 L421.25,371.77 L421.83,372.38 L422.41,372.98 L422.99,373.57 L423.57,374.15 L424.16,374.72 L424.74,375.28 L425.32,375.83 L425.90,376.37 L426.48,376.91 L427.06,377.43 L427.64,377.94 L428.23,378.45 L428.81,378.95 L429.39,379.44 L429.97,379.92 L430.55,380.39 L431.13,380.86 L431.71,381.32 L432.29,381.77 L432.88,382.22 L433.46,382.65 L434.04,383.09 L434.62,383.51 L435.20,383.93 L435.78,384.34 L436.36,384.75 L436.94,385.15 L437.52,385.54 L438.11,385.93 L438.69,386.31 L439.27,386.69 L439.85,387.06 L440.43,387.43 L441.01,387.79 L441.59,388.15 L442.18,388.50 L442.76,388.84 L443.34,389.19 L443.92,389.52 L444.50,389.86 L445.08,390.18 L445.66,390.51 L446.24,390.83 L446.82,391.14 L447.41,391.45 L447.99,391.76 L448.57,392.06 L449.15,392.36 L449.73,392.66 L450.31,392.95 L450.89,393.24 L451.48,393.52 L456.78,395.96 L462.09,398.16 L467.39,400.13 L472.70,401.93 L478.00,403.56 L483.31,405.05 L488.62,406.41 L493.92,407.67 L499.23,408.82 L504.53,409.88 L509.84,410.86 L515.14,411.76 L520.45,412.59 L525.76,413.36 L531.06,414.07 L536.37,414.72 L541.67,415.33 L546.98,415.89 L552.28,416.41 L557.59,416.88 L562.90,417.33 L568.20,417.73 L573.51,418.11 L578.81,418.45 L584.12,418.77 L589.42,419.06 L594.73,419.32 L600.04,419.57 L605.34,419.79 L610.65,419.99 L615.95,420.17 L621.26,420.34 L626.57,420.49 L631.87,420.62 L637.18,420.75 L642.48,420.85 L647.79,420.95 L653.09,421.03 L658.40,421.10" fill="none" stroke="#ff7f0e" stroke-width="2.6" stroke-dasharray="9.6 4.1" stroke-linejoin="round" clip-path="url(#clipd)"/>
<path d="M399.74,584.04 L400.32,580.80 L400.91,577.66 L401.49,574.61 L402.07,571.65 L402.65,568.78 L403.23,566.00 L403.81,563.30 L404.39,560.68 L404.97,558.13 L405.56,555.65 L406.14,553.25 L406.72,550.90 L407.30,548.63 L407.88,546.41 L408.46,544.25 L409.04,542.15 L409.62,540.11 L410.21,538.12 L410.79,536.18 L411.37,534.28 L411.95,532.44 L412.53,530.64 L413.11,528.88 L413.69,527.17 L414.27,525.50 L414.86,523.87 L415.44,522.28 L416.02,520.72 L416.60,519.20 L417.18,517.72 L417.76,516.27 L418.34,514.85 L418.93,513.46 L419.51,512.11 L420.09,510.78 L420.67,509.49 L421.25,508.22 L421.83,506.98 L422.41,505.77 L422.99,504.58 L423.57,503.42 L424.16,502.28 L424.74,501.16 L425.32,500.07 L425.90,499.00 L426.48,497.95 L427.06,496.93 L427.64,495.92 L428.23,494.94 L428.81,493.97 L429.39,493.02 L429.97,492.09 L430.55,491.18 L431.13,490.29 L431.71,489.41 L432.29,488.55 L432.88,487.71 L433.46,486.88 L434.04,486.07 L434.62,485.27 L435.20,484.49 L435.78,483.72 L436.36,482.97 L436.94,482.23 L437.52,481.50 L438.11,480.79 L438.69,480.09 L439.27,479.40 L439.85,478.73 L440.43,478.06 L441.01,477.41 L441.59,476.77 L442.18,476.14 L442.76,475.52 L443.34,474.91 L443.92,474.31 L444.50,473.73 L445.08,473.15 L445.66,472.58 L446.24,472.02 L446.82,471.47 L447.41,470.93 L447.99,470.40 L448.57,469.88 L449.15,469.36 L449.73,468.86 L450.31,468.36 L450.89,467.87 L451.48,467.39 L456.78,463.33 L462.09,459.80 L467.39,456.73 L472.70,454.03 L478.00,451.65 L483.31,449.54 L488.62,447.67 L493.92,445.99 L499.23,444.49 L504.53,443.14 L509.84,441.91 L515.14,440.80 L520.45,439.79 L525.76,438.86 L531.06,438.01 L536.37,437.23 L541.67,436.51 L546.98,435.84 L552.28,435.21 L557.59,434.63 L562.90,434.08 L568.20,433.57 L573.51,433.08 L578.81,432.63 L584.12,432.19 L589.42,431.78 L594.73,431.39 L600.04,431.02 L605.34,430.66 L610.65,430.31 L615.95,429.99 L621.26,429.67 L626.57,429.36 L631.87,429.07 L637.18,428.78 L642.48,428.51 L647.79,428.24 L653.09,427.98 L658.40,427.73" fill="none" stroke="#2ca02c" stroke-width="2.6" stroke-linejoin="round" clip-path="url(#clipd)"/>
<path d="M399.74,591.20 L400.32,587.58 L400.91,584.09 L401.49,580.72 L402.07,577.46 L402.65,574.32 L403.23,571.29 L403.81,568.36 L404.39,565.52 L404.97,562.78 L405.56,560.12 L406.14,557.54 L406.72,555.05 L407.30,552.63 L407.88,550.28 L408.46,548.00 L409.04,545.79 L409.62,543.64 L410.21,541.55 L410.79,539.52 L411.37,537.54 L411.95,535.62 L412.53,533.75 L413.11,531.93 L413.69,530.15 L414.27,528.42 L414.86,526.74 L415.44,525.09 L416.02,523.49 L416.60,521.93 L417.18,520.40 L417.76,518.91 L418.34,517.45 L418.93,516.03 L419.51,514.64 L420.09,513.28 L420.67,511.96 L421.25,510.66 L421.83,509.39 L422.41,508.15 L422.99,506.93 L423.57,505.74 L424.16,504.58 L424.74,503.44 L425.32,502.32 L425.90,501.23 L426.48,500.16 L427.06,499.11 L427.64,498.08 L428.23,497.07 L428.81,496.08 L429.39,495.11 L429.97,494.16 L430.55,493.23 L431.13,492.32 L431.71,491.42 L432.29,490.54 L432.88,489.68 L433.46,488.83 L434.04,487.99 L434.62,487.18 L435.20,486.38 L435.78,485.59 L436.36,484.81 L436.94,484.05 L437.52,483.31 L438.11,482.57 L438.69,481.85 L439.27,481.14 L439.85,480.45 L440.43,479.76 L441.01,479.09 L441.59,478.43 L442.18,477.78 L442.76,477.14 L443.34,476.51 L443.92,475.89 L444.50,475.29 L445.08,474.69 L445.66,474.10 L446.24,473.52 L446.82,472.96 L447.41,472.40 L447.99,471.85 L448.57,471.30 L449.15,470.77 L449.73,470.25 L450.31,469.73 L450.89,469.22 L451.48,468.72 L456.78,464.50 L462.09,460.82 L467.39,457.61 L472.70,454.79 L478.00,452.31 L483.31,450.11 L488.62,448.16 L493.92,446.42 L499.23,444.87 L504.53,443.48 L509.84,442.22 L515.14,441.09 L520.45,440.06 L525.76,439.12 L531.06,438.26 L536.37,437.48 L541.67,436.75 L546.98,436.08 L552.28,435.46 L557.59,434.88 L562.90,434.34 L568.20,433.83 L573.51,433.35 L578.81,432.89 L584.12,432.46 L589.42,432.05 L594.73,431.66 L600.04,431.28 L605.34,430.92 L610.65,430.57 L615.95,430.23 L621.26,429.91 L626.57,429.59 L631.87,429.28 L637.18,428.98 L642.48,428.69 L647.79,428.41 L653.09,428.13 L658.40,427.85" fill="none" stroke="#2ca02c" stroke-width="2.6" stroke-dasharray="9.6 4.1" stroke-linejoin="round" clip-path="url(#clipd)"/>
<path d="M399.74,537.02 L400.32,534.47 L400.91,531.95 L401.49,529.46 L402.07,527.01 L402.65,524.59 L403.23,522.21 L403.81,519.88 L404.39,517.58 L404.97,515.33 L405.56,513.13 L406.14,510.97 L406.72,508.85 L407.30,506.78 L407.88,504.76 L408.46,502.78 L409.04,500.85 L409.62,498.97 L410.21,497.13 L410.79,495.34 L411.37,493.59 L411.95,491.89 L412.53,490.23 L413.11,488.62 L413.69,487.05 L414.27,485.52 L414.86,484.03 L415.44,482.58 L416.02,481.17 L416.60,479.80 L417.18,478.47 L417.76,477.18 L418.34,475.92 L418.93,474.70 L419.51,473.51 L420.09,472.36 L420.67,471.24 L421.25,470.15 L421.83,469.09 L422.41,468.07 L422.99,467.07 L423.57,466.10 L424.16,465.17 L424.74,464.25 L425.32,463.37 L425.90,462.51 L426.48,461.68 L427.06,460.87 L427.64,460.09 L428.23,459.32 L428.81,458.59 L429.39,457.87 L429.97,457.17 L430.55,456.50 L431.13,455.84 L431.71,455.20 L432.29,454.59 L432.88,453.99 L433.46,453.41 L434.04,452.84 L434.62,452.29 L435.20,451.76 L435.78,451.24 L436.36,450.74 L436.94,450.25 L437.52,449.78 L438.11,449.32 L438.69,448.88 L439.27,448.44 L439.85,448.02 L440.43,447.61 L441.01,447.21 L441.59,446.83 L442.18,446.45 L442.76,446.09 L443.34,445.73 L443.92,445.39 L444.50,445.05 L445.08,444.73 L445.66,444.41 L446.24,444.10 L446.82,443.80 L447.41,443.51 L447.99,443.23 L448.57,442.95 L449.15,442.68 L449.73,442.42 L450.31,442.16 L450.89,441.91 L451.48,441.67 L456.78,439.72 L462.09,438.15 L467.39,436.85 L472.70,435.77 L478.00,434.84 L483.31,434.02 L488.62,433.28 L493.92,432.61 L499.23,432.00 L504.53,431.42 L509.84,430.88 L515.14,430.38 L520.45,429.90 L525.76,429.44 L531.06,429.01 L536.37,428.61 L541.67,428.22 L546.98,427.86 L552.28,427.53 L557.59,427.21 L562.90,426.92 L568.20,426.64 L573.51,426.39 L578.81,426.16 L584.12,425.96 L589.42,425.77 L594.73,425.60 L600.04,425.45 L605.34,425.32 L610.65,425.21 L615.95,425.12 L621.26,425.04 L626.57,424.98 L631.87,424.94 L637.18,424.91 L642.48,424.90 L647.79,424.90 L653.09,424.92 L658.40,424.95" fill="none" stroke="#d62728" stroke-width="2.6" stroke-linejoin="round" clip-path="url(#clipd)"/>
<path d="M399.74,488.46 L400.32,486.96 L400.91,485.51 L401.49,484.09 L402.07,482.70 L402.65,481.35 L403.23,480.04 L403.81,478.76 L404.39,477.51 L404.97,476.29 L405.56,475.11 L406.14,473.96 L406.72,472.83 L407.30,471.74 L407.88,470.67 L408.46,469.63 L409.04,468.62 L409.62,467.64 L410.21,466.68 L410.79,465.75 L411.37,464.84 L411.95,463.96 L412.53,463.10 L413.11,462.26 L413.69,461.45 L414.27,460.65 L414.86,459.88 L415.44,459.13 L416.02,458.39 L416.60,457.68 L417.18,456.99 L417.76,456.31 L418.34,455.65 L418.93,455.01 L419.51,454.38 L420.09,453.78 L420.67,453.18 L421.25,452.61 L421.83,452.04 L422.41,451.50 L422.99,450.96 L423.57,450.44 L424.16,449.94 L424.74,449.44 L425.32,448.96 L425.90,448.49 L426.48,448.04 L427.06,447.59 L427.64,447.16 L428.23,446.73 L428.81,446.32 L429.39,445.92 L429.97,445.53 L430.55,445.14 L431.13,444.77 L431.71,444.41 L432.29,444.05 L432.88,443.71 L433.46,443.37 L434.04,443.04 L434.62,442.72 L435.20,442.40 L435.78,442.10 L436.36,441.80 L436.94,441.51 L437.52,441.22 L438.11,440.94 L438.69,440.67 L439.27,440.40 L439.85,440.15 L440.43,439.89 L441.01,439.64 L441.59,439.40 L442.18,439.17 L442.76,438.94 L443.34,438.71 L443.92,438.49 L444.50,438.27 L445.08,438.06 L445.66,437.86 L446.24,437.65 L446.82,437.46 L447.41,437.26 L447.99,437.08 L448.57,436.89 L449.15,436.71 L449.73,436.53 L450.31,436.36 L450.89,436.19 L451.48,436.02 L456.78,434.66 L462.09,433.52 L467.39,432.57 L472.70,431.76 L478.00,431.06 L483.31,430.46 L488.62,429.93 L493.92,429.47 L499.23,429.05 L504.53,428.68 L509.84,428.35 L515.14,428.05 L520.45,427.78 L525.76,427.53 L531.06,427.30 L536.37,427.09 L541.67,426.90 L546.98,426.71 L552.28,426.55 L557.59,426.39 L562.90,426.25 L568.20,426.11 L573.51,425.99 L578.81,425.87 L584.12,425.76 L589.42,425.66 L594.73,425.56 L600.04,425.47 L605.34,425.39 L610.65,425.31 L615.95,425.23 L621.26,425.17 L626.57,425.10 L631.87,425.04 L637.18,424.99 L642.48,424.94 L647.79,424.89 L653.09,424.85 L658.40,424.81" fill="none" stroke="#d62728" stroke-width="2.6" stroke-dasharray="9.6 4.1" stroke-linejoin="round" clip-path="url(#clipd)"/>
<path d="M399.74,461.36 L400.32,460.37 L400.91,459.41 L401.49,458.49 L402.07,457.60 L402.65,456.75 L403.23,455.93 L403.81,455.14 L404.39,454.37 L404.97,453.63 L405.56,452.92 L406.14,452.24 L406.72,451.57 L407.30,450.93 L407.88,450.31 L408.46,449.72 L409.04,449.14 L409.62,448.58 L410.21,448.04 L410.79,447.51 L411.37,447.00 L411.95,446.51 L412.53,446.03 L413.11,445.57 L413.69,445.12 L414.27,444.69 L414.86,444.27 L415.44,443.86 L416.02,443.46 L416.60,443.07 L417.18,442.70 L417.76,442.33 L418.34,441.98 L418.93,441.63 L419.51,441.30 L420.09,440.97 L420.67,440.66 L421.25,440.35 L421.83,440.05 L422.41,439.76 L422.99,439.47 L423.57,439.19 L424.16,438.92 L424.74,438.66 L425.32,438.41 L425.90,438.16 L426.48,437.91 L427.06,437.67 L427.64,437.44 L428.23,437.22 L428.81,437.00 L429.39,436.78 L429.97,436.57 L430.55,436.37 L431.13,436.17 L431.71,435.97 L432.29,435.78 L432.88,435.59 L433.46,435.41 L434.04,435.23 L434.62,435.06 L435.20,434.89 L435.78,434.72 L436.36,434.56 L436.94,434.40 L437.52,434.24 L438.11,434.09 L438.69,433.94 L439.27,433.80 L439.85,433.65 L440.43,433.51 L441.01,433.38 L441.59,433.24 L442.18,433.11 L442.76,432.98 L443.34,432.86 L443.92,432.74 L444.50,432.62 L445.08,432.50 L445.66,432.38 L446.24,432.27 L446.82,432.16 L447.41,432.05 L447.99,431.94 L448.57,431.84 L449.15,431.74 L449.73,431.63 L450.31,431.54 L450.89,431.44 L451.48,431.34 L456.78,430.56 L462.09,429.89 L467.39,429.33 L472.70,428.85 L478.00,428.43 L483.31,428.07 L488.62,427.76 L493.92,427.48 L499.23,427.24 L504.53,427.02 L509.84,426.83 L515.14,426.66 L520.45,426.51 L525.76,426.37 L531.06,426.24 L536.37,426.12 L541.67,426.02 L546.98,425.92 L552.28,425.82 L557.59,425.73 L562.90,425.65 L568.20,425.57 L573.51,425.50 L578.81,425.43 L584.12,425.36 L589.42,425.29 L594.73,425.23 L600.04,425.16 L605.34,425.10 L610.65,425.04 L615.95,424.99 L621.26,424.93 L626.57,424.87 L631.87,424.82 L637.18,424.76 L642.48,424.71 L647.79,424.66 L653.09,424.61 L658.40,424.55" fill="none" stroke="#9467bd" stroke-width="2.6" stroke-linejoin="round" clip-path="url(#clipd)"/>
<path d="M399.74,433.25 L400.32,433.12 L400.91,433.00 L401.49,432.88 L402.07,432.76 L402.65,432.65 L403.23,432.54 L403.81,432.43 L404.39,432.32 L404.97,432.21 L405.56,432.11 L406.14,432.00 L406.72,431.90 L407.30,431.80 L407.88,431.71 L408.46,431.61 L409.04,431.52 L409.62,431.42 L410.21,431.33 L410.79,431.24 L411.37,431.16 L411.95,431.07 L412.53,430.98 L413.11,430.90 L413.69,430.82 L414.27,430.74 L414.86,430.66 L415.44,430.58 L416.02,430.50 L416.60,430.43 L417.18,430.35 L417.76,430.28 L418.34,430.21 L418.93,430.14 L419.51,430.07 L420.09,430.00 L420.67,429.93 L421.25,429.86 L421.83,429.80 L422.41,429.73 L422.99,429.67 L423.57,429.61 L424.16,429.55 L424.74,429.49 L425.32,429.43 L425.90,429.37 L426.48,429.31 L427.06,429.25 L427.64,429.20 L428.23,429.14 L428.81,429.09 L429.39,429.03 L429.97,428.98 L430.55,428.93 L431.13,428.88 L431.71,428.82 L432.29,428.77 L432.88,428.72 L433.46,428.68 L434.04,428.63 L434.62,428.58 L435.20,428.53 L435.78,428.49 L436.36,428.44 L436.94,428.40 L437.52,428.35 L438.11,428.31 L438.69,428.27 L439.27,428.23 L439.85,428.18 L440.43,428.14 L441.01,428.10 L441.59,428.06 L442.18,428.02 L442.76,427.98 L443.34,427.94 L443.92,427.91 L444.50,427.87 L445.08,427.83 L445.66,427.80 L446.24,427.76 L446.82,427.72 L447.41,427.69 L447.99,427.65 L448.57,427.62 L449.15,427.59 L449.73,427.55 L450.31,427.52 L450.89,427.49 L451.48,427.45 L456.78,427.18 L462.09,426.93 L467.39,426.71 L472.70,426.51 L478.00,426.33 L483.31,426.16 L488.62,426.01 L493.92,425.88 L499.23,425.75 L504.53,425.64 L509.84,425.53 L515.14,425.44 L520.45,425.35 L525.76,425.26 L531.06,425.19 L536.37,425.12 L541.67,425.05 L546.98,424.99 L552.28,424.93 L557.59,424.88 L562.90,424.83 L568.20,424.78 L573.51,424.74 L578.81,424.70 L584.12,424.66 L589.42,424.62 L594.73,424.59 L600.04,424.56 L605.34,424.53 L610.65,424.50 L615.95,424.47 L621.26,424.45 L626.57,424.42 L631.87,424.40 L637.18,424.38 L642.48,424.36 L647.79,424.34 L653.09,424.32 L658.40,424.30" fill="none" stroke="#9467bd" stroke-width="2.6" stroke-dasharray="9.6 4.1" stroke-linejoin="round" clip-path="url(#clipd)"/>
<line x1="128.40" y1="13.20" x2="147.00" y2="13.20" stroke="#1f77b4" stroke-width="2.4"/>
<text x="151.50" y="16.20" font-size="8.3" text-anchor="start" textLength="10.17" lengthAdjust="spacingAndGlyphs" font-family='"Liberation Sans", sans-serif' fill="#1c1c1c" stroke="#1c1c1c" stroke-width="0.25" >d1</text>
<line x1="128.40" y1="25.00" x2="147.00" y2="25.00" stroke="#ff7f0e" stroke-width="2.4"/>
<text x="151.50" y="28.00" font-size="8.3" text-anchor="start" textLength="10.17" lengthAdjust="spacingAndGlyphs" font-family='"Liberation Sans", sans-serif' fill="#1c1c1c" stroke="#1c1c1c" stroke-width="0.25" >d2</text>
<line x1="177.40" y1="13.20" x2="196.00" y2="13.20" stroke="#2ca02c" stroke-width="2.4"/>
<text x="201.00" y="16.20" font-size="8.3" text-anchor="start" textLength="10.17" lengthAdjust="spacingAndGlyphs" font-family='"Liberation Sans", sans-serif' fill="#1c1c1c" stroke="#1c1c1c" stroke-width="0.25" >d3</text>
<line x1="177.40" y1="25.00" x2="196.00" y2="25.00" stroke="#d62728" stroke-width="2.4"/>
<text x="201.00" y="28.00" font-size="8.3" text-anchor="start" textLength="10.17" lengthAdjust="spacingAndGlyphs" font-family='"Liberation Sans", sans-serif' fill="#1c1c1c" stroke="#1c1c1c" stroke-width="0.25" >d4</text>
<line x1="226.40" y1="13.20" x2="245.00" y2="13.20" stroke="#9467bd" stroke-width="2.4"/>
<text x="249.90" y="16.20" font-size="8.3" text-anchor="start" textLength="10.17" lengthAdjust="spacingAndGlyphs" font-family='"Liberation Sans", sans-serif' fill="#1c1c1c" stroke="#1c1c1c" stroke-width="0.25" >d5</text>
<line x1="226.40" y1="25.00" x2="245.00" y2="25.00" stroke="#8c564b" stroke-width="2.4"/>
<text x="249.90" y="28.00" font-size="8.3" text-anchor="start" textLength="10.17" lengthAdjust="spacingAndGlyphs" font-family='"Liberation Sans", sans-serif' fill="#1c1c1c" stroke="#1c1c1c" stroke-width="0.25" >d6</text>
<line x1="275.30" y1="13.20" x2="293.90" y2="13.20" stroke="#e377c2" stroke-width="2.4"/>
<text x="299.00" y="16.20" font-size="8.3" text-anchor="start" textLength="10.17" lengthAdjust="spacingAndGlyphs" font-family='"Liberation Sans", sans-serif' fill="#1c1c1c" stroke="#1c1c1c" stroke-width="0.25" >d7</text>
<line x1="275.30" y1="25.00" x2="293.90" y2="25.00" stroke="#7f7f7f" stroke-width="2.4"/>
<text x="299.00" y="28.00" font-size="8.3" text-anchor="start" textLength="10.17" lengthAdjust="spacingAndGlyphs" font-family='"Liberation Sans", sans-serif' fill="#1c1c1c" stroke="#1c1c1c" stroke-width="0.25" >d8</text>
<line x1="564.90" y1="15.40" x2="583.50" y2="15.40" stroke="#1f77b4" stroke-width="2.4"/>
<text x="588.80" y="18.40" font-size="8.3" text-anchor="start" textLength="10.17" lengthAdjust="spacingAndGlyphs" font-family='"Liberation Sans", sans-serif' fill="#1c1c1c" stroke="#1c1c1c" stroke-width="0.25" >d1</text>
<line x1="564.90" y1="27.10" x2="583.50" y2="27.10" stroke="#ff7f0e" stroke-width="2.4"/>
<text x="588.80" y="30.10" font-size="8.3" text-anchor="start" textLength="10.17" lengthAdjust="spacingAndGlyphs" font-family='"Liberation Sans", sans-serif' fill="#1c1c1c" stroke="#1c1c1c" stroke-width="0.25" >d2</text>
<line x1="614.10" y1="15.40" x2="632.60" y2="15.40" stroke="#2ca02c" stroke-width="2.4"/>
<text x="637.70" y="18.40" font-size="8.3" text-anchor="start" textLength="10.17" lengthAdjust="spacingAndGlyphs" font-family='"Liberation Sans", sans-serif' fill="#1c1c1c" stroke="#1c1c1c" stroke-width="0.25" >d3</text>
<line x1="614.10" y1="27.10" x2="632.60" y2="27.10" stroke="#d62728" stroke-width="2.4"/>
<text x="637.70" y="30.10" font-size="8.3" text-anchor="start" textLength="10.17" lengthAdjust="spacingAndGlyphs" font-family='"Liberation Sans", sans-serif' fill="#1c1c1c" stroke="#1c1c1c" stroke-width="0.25" >d4</text>
<line x1="220.10" y1="348.20" x2="239.10" y2="348.20" stroke="#1f77b4" stroke-width="2.4"/>
<text x="244.40" y="351.20" font-size="8.3" text-anchor="start" textLength="10.17" lengthAdjust="spacingAndGlyphs" font-family='"Liberation Sans", sans-serif' fill="#1c1c1c" stroke="#1c1c1c" stroke-width="0.25" >d1</text>
<line x1="220.10" y1="360.30" x2="239.10" y2="360.30" stroke="#ff7f0e" stroke-width="2.4"/>
<text x="244.40" y="363.30" font-size="8.3" text-anchor="start" textLength="10.17" lengthAdjust="spacingAndGlyphs" font-family='"Liberation Sans", sans-serif' fill="#1c1c1c" stroke="#1c1c1c" stroke-width="0.25" >d2</text>
<line x1="270.20" y1="348.20" x2="289.20" y2="348.20" stroke="#2ca02c" stroke-width="2.4"/>
<text x="294.80" y="351.20" font-size="8.3" text-anchor="start" textLength="10.17" lengthAdjust="spacingAndGlyphs" font-family='"Liberation Sans", sans-serif' fill="#1c1c1c" stroke="#1c1c1c" stroke-width="0.25" >d3</text>
<line x1="270.20" y1="360.30" x2="289.20" y2="360.30" stroke="#d62728" stroke-width="2.4"/>
<text x="294.80" y="363.30" font-size="8.3" text-anchor="start" textLength="10.17" lengthAdjust="spacingAndGlyphs" font-family='"Liberation Sans", sans-serif' fill="#1c1c1c" stroke="#1c1c1c" stroke-width="0.25" >d4</text>
<line x1="566.20" y1="345.90" x2="585.20" y2="345.90" stroke="#1f77b4" stroke-width="2.4"/>
<text x="590.70" y="348.90" font-size="8.3" text-anchor="start" textLength="10.17" lengthAdjust="spacingAndGlyphs" font-family='"Liberation Sans", sans-serif' fill="#1c1c1c" stroke="#1c1c1c" stroke-width="0.25" >d1</text>
<line x1="566.20" y1="358.00" x2="585.20" y2="358.00" stroke="#ff7f0e" stroke-width="2.4"/>
<text x="590.70" y="361.00" font-size="8.3" text-anchor="start" textLength="10.17" lengthAdjust="spacingAndGlyphs" font-family='"Liberation Sans", sans-serif' fill="#1c1c1c" stroke="#1c1c1c" stroke-width="0.25" >d2</text>
<line x1="566.20" y1="370.20" x2="585.20" y2="370.20" stroke="#2ca02c" stroke-width="2.4"/>
<text x="590.70" y="373.20" font-size="8.3" text-anchor="start" textLength="10.17" lengthAdjust="spacingAndGlyphs" font-family='"Liberation Sans", sans-serif' fill="#1c1c1c" stroke="#1c1c1c" stroke-width="0.25" >d3</text>
<line x1="616.10" y1="345.90" x2="635.10" y2="345.90" stroke="#d62728" stroke-width="2.4"/>
<text x="640.70" y="348.90" font-size="8.3" text-anchor="start" textLength="10.17" lengthAdjust="spacingAndGlyphs" font-family='"Liberation Sans", sans-serif' fill="#1c1c1c" stroke="#1c1c1c" stroke-width="0.25" >d4</text>
<line x1="616.10" y1="358.00" x2="635.10" y2="358.00" stroke="#9467bd" stroke-width="2.4"/>
<text x="640.70" y="361.00" font-size="8.3" text-anchor="start" textLength="10.17" lengthAdjust="spacingAndGlyphs" font-family='"Liberation Sans", sans-serif' fill="#1c1c1c" stroke="#1c1c1c" stroke-width="0.25" >d5</text>
<text x="124.50" y="320.30" font-size="15.6" text-anchor="start" textLength="80.50" lengthAdjust="spacingAndGlyphs" font-family='"Liberation Serif", serif' fill="#2a2a2a" stroke="#2a2a2a" stroke-width="0" >(a) Dioxane</text>
<text x="443.60" y="323.00" font-size="15.6" text-anchor="start" textLength="106.30" lengthAdjust="spacingAndGlyphs" font-family='"Liberation Serif", serif' fill="#2a2a2a" stroke="#2a2a2a" stroke-width="0" >(b) Acetonitrile</text>
<text x="116.50" y="661.60" font-size="15.6" text-anchor="start" textLength="88.40" lengthAdjust="spacingAndGlyphs" font-family='"Liberation Serif", serif' fill="#2a2a2a" stroke="#2a2a2a" stroke-width="0" >(c) Methanol</text>
<text x="462.40" y="659.50" font-size="15.6" text-anchor="start" textLength="67.60" lengthAdjust="spacingAndGlyphs" font-family='"Liberation Serif", serif' fill="#2a2a2a" stroke="#2a2a2a" stroke-width="0" >(d) Water</text>
<line x1="225.10" y1="81.70" x2="227.30" y2="100.00" stroke="#8a8a8a" stroke-width="0.7"/>
<line x1="257.90" y1="91.50" x2="249.00" y2="100.00" stroke="#8a8a8a" stroke-width="0.7"/>
<line x1="282.50" y1="108.80" x2="268.00" y2="108.50" stroke="#8a8a8a" stroke-width="0.7"/>
<line x1="265.00" y1="135.30" x2="250.00" y2="127.00" stroke="#8a8a8a" stroke-width="0.7"/>
<line x1="198.40" y1="136.10" x2="216.00" y2="124.00" stroke="#8a8a8a" stroke-width="0.7"/>
<g transform="translate(260.78,115.73) rotate(-96.51)"><rect x="-3.00" y="-3.00" width="11.16" height="6.00" rx="3.00" fill="url(#sG)"/></g>
<g transform="translate(261.50,122.00) rotate(-96.51)"><rect x="-3.00" y="-3.00" width="12.31" height="6.00" rx="3.00" fill="url(#sW)"/></g>
<g transform="translate(227.70,113.40) rotate(-33.77)"><rect x="-3.00" y="-3.00" width="25.61" height="6.00" rx="3.00" fill="url(#sG)"/></g>
<g transform="translate(244.00,102.50) rotate(26.57)"><rect x="-3.00" y="-3.00" width="24.11" height="6.00" rx="3.00" fill="url(#sG)"/></g>
<g transform="translate(227.70,113.40) rotate(32.12)"><rect x="-3.00" y="-3.00" width="26.31" height="6.00" rx="3.00" fill="url(#sG)"/></g>
<g transform="translate(244.90,124.20) rotate(-41.63)"><rect x="-3.00" y="-3.00" width="26.47" height="6.00" rx="3.00" fill="url(#sG)"/></g>
<g transform="translate(232.10,110.46) rotate(-33.77)"><rect x="-3.00" y="-3.00" width="15.02" height="6.00" rx="3.00" fill="url(#sR)"/></g>
<g transform="translate(252.55,117.40) rotate(-41.63)"><rect x="-3.00" y="-3.00" width="14.60" height="6.00" rx="3.00" fill="url(#sR)"/></g>
<g transform="translate(227.70,113.40) rotate(-92.20)"><rect x="-3.00" y="-3.00" width="10.68" height="6.00" rx="3.00" fill="url(#sG)"/></g>
<g transform="translate(227.52,108.72) rotate(-92.20)"><rect x="-3.00" y="-3.00" width="11.72" height="6.00" rx="3.00" fill="url(#sW)"/></g>
<g transform="translate(244.00,102.50) rotate(-90.00)"><rect x="-3.00" y="-3.00" width="11.17" height="6.00" rx="3.00" fill="url(#sG)"/></g>
<g transform="translate(244.00,97.33) rotate(-90.00)"><rect x="-3.00" y="-3.00" width="12.33" height="6.00" rx="3.00" fill="url(#sW)"/></g>
<g transform="translate(260.20,110.60) rotate(-29.74)"><rect x="-3.00" y="-3.00" width="11.08" height="6.00" rx="3.00" fill="url(#sG)"/></g>
<g transform="translate(264.61,108.08) rotate(-29.74)"><rect x="-3.00" y="-3.00" width="12.21" height="6.00" rx="3.00" fill="url(#sW)"/></g>
<g transform="translate(223.56,117.05) rotate(-41.36)"><rect x="-3.00" y="-3.00" width="11.52" height="6.00" rx="3.00" fill="url(#sG)"/></g>
<g transform="translate(218.50,121.50) rotate(-41.36)"><rect x="-3.00" y="-3.00" width="12.74" height="6.00" rx="3.00" fill="url(#sW)"/></g>
<g transform="translate(245.22,129.74) rotate(-93.26)"><rect x="-3.00" y="-3.00" width="11.54" height="6.00" rx="3.00" fill="url(#sG)"/></g>
<g transform="translate(245.60,136.50) rotate(-93.26)"><rect x="-3.00" y="-3.00" width="12.78" height="6.00" rx="3.00" fill="url(#sW)"/></g>
<circle cx="244.9" cy="124.0" r="2.6" fill="url(#gW)"/>
<circle cx="223.60" cy="70.50" r="3.30" fill="url(#gB)"/>
<circle cx="225.10" cy="81.70" r="3.30" fill="url(#gR)"/>
<circle cx="264.20" cy="86.30" r="3.30" fill="url(#gB)"/>
<circle cx="257.90" cy="91.50" r="3.30" fill="url(#gR)"/>
<circle cx="293.60" cy="107.30" r="3.30" fill="url(#gB)"/>
<circle cx="282.50" cy="108.80" r="3.30" fill="url(#gR)"/>
<circle cx="198.40" cy="136.10" r="3.30" fill="url(#gR)"/>
<circle cx="187.20" cy="144.10" r="3.30" fill="url(#gB)"/>
<circle cx="265.00" cy="135.30" r="3.30" fill="url(#gR)"/>
<circle cx="275.50" cy="140.90" r="3.30" fill="url(#gB)"/>
<text x="233.40" y="79.18" font-size="9.4" text-anchor="middle" font-style="italic" font-family='"Liberation Sans", sans-serif' fill="#202020" stroke="#202020" stroke-width="0.2">d5</text>
<text x="268.80" y="98.08" font-size="9.4" text-anchor="middle" font-style="italic" font-family='"Liberation Sans", sans-serif' fill="#202020" stroke="#202020" stroke-width="0.2">d4</text>
<text x="288.60" y="119.68" font-size="9.4" text-anchor="middle" font-style="italic" font-family='"Liberation Sans", sans-serif' fill="#202020" stroke="#202020" stroke-width="0.2">d3</text>
<text x="186.60" y="139.08" font-size="9.4" text-anchor="middle" font-style="italic" font-family='"Liberation Sans", sans-serif' fill="#202020" stroke="#202020" stroke-width="0.2">d1</text>
<text x="265.60" y="148.48" font-size="9.4" text-anchor="middle" font-style="italic" font-family='"Liberation Sans", sans-serif' fill="#202020" stroke="#202020" stroke-width="0.2">d2</text>
<line x1="245.00" y1="196.10" x2="244.70" y2="205.50" stroke="#8a8a8a" stroke-width="0.7"/>
<line x1="261.20" y1="181.10" x2="261.00" y2="203.00" stroke="#8a8a8a" stroke-width="0.7"/>
<line x1="281.90" y1="205.80" x2="273.00" y2="210.50" stroke="#8a8a8a" stroke-width="0.7"/>
<line x1="223.00" y1="239.30" x2="240.50" y2="229.70" stroke="#8a8a8a" stroke-width="0.7"/>
<g transform="translate(229.50,232.50) rotate(-90.00)"><rect x="-3.20" y="-3.20" width="18.90" height="6.40" rx="3.20" fill="url(#sG)"/></g>
<g transform="translate(260.50,232.50) rotate(-90.00)"><rect x="-3.20" y="-3.20" width="18.90" height="6.40" rx="3.20" fill="url(#sG)"/></g>
<g transform="translate(224.55,217.30) rotate(28.61)"><rect x="-3.20" y="-3.20" width="12.04" height="6.40" rx="3.20" fill="url(#sG)"/></g>
<g transform="translate(218.50,214.00) rotate(28.61)"><rect x="-3.20" y="-3.20" width="13.29" height="6.40" rx="3.20" fill="url(#sW)"/></g>
<g transform="translate(224.55,222.84) rotate(-29.80)"><rect x="-3.20" y="-3.20" width="12.10" height="6.40" rx="3.20" fill="url(#sG)"/></g>
<g transform="translate(218.50,226.30) rotate(-29.80)"><rect x="-3.20" y="-3.20" width="13.37" height="6.40" rx="3.20" fill="url(#sW)"/></g>
<g transform="translate(260.50,220.00) rotate(-30.58)"><rect x="-3.20" y="-3.20" width="12.15" height="6.40" rx="3.20" fill="url(#sG)"/></g>
<g transform="translate(265.45,217.07) rotate(-30.58)"><rect x="-3.20" y="-3.20" width="13.43" height="6.40" rx="3.20" fill="url(#sW)"/></g>
<g transform="translate(260.50,220.00) rotate(28.61)"><rect x="-3.20" y="-3.20" width="12.04" height="6.40" rx="3.20" fill="url(#sG)"/></g>
<g transform="translate(265.45,222.70) rotate(28.61)"><rect x="-3.20" y="-3.20" width="13.29" height="6.40" rx="3.20" fill="url(#sW)"/></g>
<g transform="translate(229.50,220.00) rotate(-90.00)"><rect x="-3.20" y="-3.20" width="12.65" height="6.40" rx="3.20" fill="url(#sG)"/></g>
<g transform="translate(229.50,213.75) rotate(-90.00)"><rect x="-3.20" y="-3.20" width="12.65" height="6.40" rx="3.20" fill="url(#sW)"/></g>
<g transform="translate(260.50,220.00) rotate(-90.00)"><rect x="-3.20" y="-3.20" width="12.65" height="6.40" rx="3.20" fill="url(#sG)"/></g>
<g transform="translate(260.50,213.75) rotate(-90.00)"><rect x="-3.20" y="-3.20" width="12.65" height="6.40" rx="3.20" fill="url(#sW)"/></g>
<g transform="translate(229.50,220.00) rotate(-47.92)"><rect x="-2.70" y="-2.70" width="15.10" height="5.40" rx="2.70" fill="url(#sG)"/></g>
<g transform="translate(229.50,220.00) rotate(17.10)"><rect x="-2.70" y="-2.70" width="12.20" height="5.40" rx="2.70" fill="url(#sG)"/></g>
<g transform="translate(260.50,220.00) rotate(-134.19)"><rect x="-2.70" y="-2.70" width="15.44" height="5.40" rx="2.70" fill="url(#sG)"/></g>
<g transform="translate(253.70,222.60) rotate(-20.92)"><rect x="-2.70" y="-2.70" width="12.68" height="5.40" rx="2.70" fill="url(#sG)"/></g>
<g transform="translate(236.00,212.80) rotate(-32.30)"><rect x="-2.70" y="-2.70" width="15.69" height="5.40" rx="2.70" fill="url(#sR)"/></g>
<g transform="translate(244.70,207.30) rotate(32.01)"><rect x="-2.70" y="-2.70" width="15.78" height="5.40" rx="2.70" fill="url(#sR)"/></g>
<g transform="translate(236.00,222.00) rotate(34.59)"><rect x="-2.70" y="-2.70" width="15.97" height="5.40" rx="2.70" fill="url(#sR)"/></g>
<g transform="translate(244.70,228.00) rotate(-30.96)"><rect x="-2.70" y="-2.70" width="15.90" height="5.40" rx="2.70" fill="url(#sR)"/></g>
<circle cx="261.70" cy="169.10" r="3.30" fill="url(#gB)"/>
<circle cx="261.20" cy="181.10" r="3.30" fill="url(#gR)"/>
<circle cx="245.00" cy="188.90" r="3.30" fill="url(#gB)"/>
<circle cx="245.00" cy="196.10" r="3.30" fill="url(#gR)"/>
<circle cx="292.70" cy="199.10" r="3.30" fill="url(#gB)"/>
<circle cx="281.90" cy="205.80" r="3.30" fill="url(#gR)"/>
<circle cx="223.00" cy="239.30" r="3.30" fill="url(#gR)"/>
<circle cx="211.60" cy="246.40" r="3.30" fill="url(#gB)"/>
<text x="271.10" y="178.18" font-size="9.4" text-anchor="middle" font-style="italic" font-family='"Liberation Sans", sans-serif' fill="#202020" stroke="#202020" stroke-width="0.2">d5</text>
<text x="232.70" y="195.28" font-size="9.4" text-anchor="middle" font-style="italic" font-family='"Liberation Sans", sans-serif' fill="#202020" stroke="#202020" stroke-width="0.2">d8</text>
<text x="292.70" y="212.78" font-size="9.4" text-anchor="middle" font-style="italic" font-family='"Liberation Sans", sans-serif' fill="#202020" stroke="#202020" stroke-width="0.2">d6</text>
<text x="222.10" y="252.08" font-size="9.4" text-anchor="middle" font-style="italic" font-family='"Liberation Sans", sans-serif' fill="#202020" stroke="#202020" stroke-width="0.2">d7</text>
<line x1="616.50" y1="170.20" x2="602.00" y2="184.60" stroke="#8a8a8a" stroke-width="0.7"/>
<line x1="603.00" y1="190.00" x2="613.80" y2="199.90" stroke="#8a8a8a" stroke-width="0.7"/>
<line x1="548.90" y1="207.20" x2="562.00" y2="210.50" stroke="#8a8a8a" stroke-width="0.7"/>
<line x1="569.00" y1="217.00" x2="557.00" y2="233.30" stroke="#8a8a8a" stroke-width="0.7"/>
<g transform="translate(581.50,228.60) rotate(-121.58)"><rect x="-3.20" y="-3.20" width="20.72" height="6.40" rx="3.20" fill="url(#sW)"/></g>
<g transform="translate(574.00,212.20) rotate(-43.16)"><rect x="-3.30" y="-3.30" width="44.03" height="6.60" rx="3.30" fill="url(#sG)"/></g>
<g transform="translate(594.30,193.20) rotate(-43.32)"><rect x="-3.30" y="-3.30" width="16.22" height="6.60" rx="3.30" fill="url(#sB)"/></g>
<ellipse cx="569.0" cy="213.9" rx="6.2" ry="4.4" transform="rotate(-25 569 213.9)" fill="url(#gM)"/>
<circle cx="564.2" cy="210.8" r="2.6" fill="url(#gW)"/>
<circle cx="628.70" cy="156.70" r="3.80" fill="url(#gB)"/>
<circle cx="619.20" cy="167.00" r="3.80" fill="url(#gR)"/>
<circle cx="616.10" cy="201.80" r="3.80" fill="url(#gR)"/>
<circle cx="624.60" cy="209.00" r="3.80" fill="url(#gB)"/>
<circle cx="545.90" cy="205.90" r="3.80" fill="url(#gR)"/>
<circle cx="536.30" cy="203.00" r="3.80" fill="url(#gB)"/>
<circle cx="554.90" cy="235.10" r="3.80" fill="url(#gR)"/>
<circle cx="544.80" cy="245.00" r="3.80" fill="url(#gB)"/>
<text x="631.60" y="170.67" font-size="10.2" text-anchor="middle" font-style="italic" font-family='"Liberation Sans", sans-serif' fill="#202020" stroke="#202020" stroke-width="0.2">d4</text>
<text x="612.90" y="215.37" font-size="10.2" text-anchor="middle" font-style="italic" font-family='"Liberation Sans", sans-serif' fill="#202020" stroke="#202020" stroke-width="0.2">d3</text>
<text x="546.00" y="201.27" font-size="10.2" text-anchor="middle" font-style="italic" font-family='"Liberation Sans", sans-serif' fill="#202020" stroke="#202020" stroke-width="0.2">d1</text>
<text x="543.50" y="240.57" font-size="10.2" text-anchor="middle" font-style="italic" font-family='"Liberation Sans", sans-serif' fill="#202020" stroke="#202020" stroke-width="0.2">d2</text>
<line x1="252.60" y1="526.50" x2="252.60" y2="543.00" stroke="#8a8a8a" stroke-width="0.7"/>
<line x1="265.30" y1="544.30" x2="280.00" y2="539.00" stroke="#8a8a8a" stroke-width="0.7"/>
<line x1="238.30" y1="569.80" x2="224.70" y2="574.30" stroke="#8a8a8a" stroke-width="0.7"/>
<line x1="266.80" y1="572.00" x2="280.00" y2="577.30" stroke="#8a8a8a" stroke-width="0.7"/>
<g transform="translate(254.00,546.10) rotate(-5.98)"><rect x="-2.50" y="-2.50" width="15.56" height="5.00" rx="2.50" fill="url(#sW)"/></g>
<g transform="translate(254.00,546.10) rotate(-6.34)"><rect x="-2.50" y="-2.50" width="9.53" height="5.00" rx="2.50" fill="url(#sR)"/></g>
<g transform="translate(253.30,565.30) rotate(-90.00)"><rect x="-3.00" y="-3.00" width="15.00" height="6.00" rx="3.00" fill="url(#sG)"/></g>
<g transform="translate(253.30,556.30) rotate(-90.00)"><rect x="-3.00" y="-3.00" width="16.30" height="6.00" rx="3.00" fill="url(#sR)"/></g>
<circle cx="252.5" cy="570.8" r="3.0" fill="url(#gK)"/>
<g transform="translate(239.80,569.00) rotate(-13.13)"><rect x="-3.20" y="-3.20" width="18.72" height="6.40" rx="3.20" fill="url(#sW)"/></g>
<g transform="translate(254.80,566.20) rotate(22.27)"><rect x="-3.20" y="-3.20" width="17.75" height="6.40" rx="3.20" fill="url(#sW)"/></g>
<circle cx="252.80" cy="511.20" r="3.50" fill="url(#gB)"/>
<circle cx="252.80" cy="523.90" r="3.50" fill="url(#gR)"/>
<circle cx="292.40" cy="533.80" r="3.50" fill="url(#gB)"/>
<circle cx="282.20" cy="537.10" r="3.50" fill="url(#gR)"/>
<circle cx="221.80" cy="575.10" r="3.50" fill="url(#gR)"/>
<circle cx="211.50" cy="578.40" r="3.50" fill="url(#gB)"/>
<circle cx="282.50" cy="578.40" r="3.50" fill="url(#gR)"/>
<circle cx="292.40" cy="581.70" r="3.50" fill="url(#gB)"/>
<text x="259.90" y="520.33" font-size="9.8" text-anchor="middle" font-style="italic" font-family='"Liberation Sans", sans-serif' fill="#202020" stroke="#202020" stroke-width="0.2">d4</text>
<text x="289.10" y="546.43" font-size="9.8" text-anchor="middle" font-style="italic" font-family='"Liberation Sans", sans-serif' fill="#202020" stroke="#202020" stroke-width="0.2">d3</text>
<text x="212.30" y="574.53" font-size="9.8" text-anchor="middle" font-style="italic" font-family='"Liberation Sans", sans-serif' fill="#202020" stroke="#202020" stroke-width="0.2">d1</text>
<text x="280.90" y="591.03" font-size="9.8" text-anchor="middle" font-style="italic" font-family='"Liberation Sans", sans-serif' fill="#202020" stroke="#202020" stroke-width="0.2">d2</text>
<line x1="563.10" y1="562.70" x2="585.00" y2="562.70" stroke="#555555" stroke-width="1.5" stroke-dasharray="1.1 0.9"/>
<line x1="589.00" y1="540.60" x2="589.00" y2="558.20" stroke="#555555" stroke-width="1.5" stroke-dasharray="1.1 0.9"/>
<line x1="603.70" y1="540.60" x2="603.70" y2="558.20" stroke="#555555" stroke-width="1.5" stroke-dasharray="1.1 0.9"/>
<line x1="620.90" y1="551.50" x2="607.50" y2="560.50" stroke="#777" stroke-width="0.9"/>
<line x1="597.00" y1="567.50" x2="582.90" y2="577.00" stroke="#777" stroke-width="0.9"/>
<g transform="translate(589.50,562.40) rotate(0.00)"><rect x="-4.30" y="-4.30" width="17.10" height="8.60" rx="4.30" fill="url(#sW)"/></g>
<g transform="translate(600.60,562.00) rotate(0.00)"><rect x="-4.20" y="-4.20" width="11.60" height="8.40" rx="4.20" fill="url(#sR)"/></g>
<g transform="translate(609.00,571.60) rotate(-126.25)"><rect x="-3.80" y="-3.80" width="15.04" height="7.60" rx="3.80" fill="url(#sW)"/></g>
<circle cx="588.70" cy="523.50" r="4.30" fill="url(#gB)"/>
<circle cx="603.00" cy="523.50" r="4.30" fill="url(#gB)"/>
<circle cx="588.70" cy="536.40" r="4.30" fill="url(#gR)"/>
<circle cx="603.50" cy="536.40" r="4.30" fill="url(#gR)"/>
<circle cx="632.40" cy="542.20" r="4.30" fill="url(#gB)"/>
<circle cx="622.90" cy="548.80" r="4.30" fill="url(#gR)"/>
<circle cx="542.40" cy="562.80" r="4.30" fill="url(#gB)"/>
<circle cx="558.10" cy="562.80" r="4.30" fill="url(#gR)"/>
<circle cx="579.60" cy="579.70" r="4.30" fill="url(#gR)"/>
<circle cx="570.00" cy="586.30" r="4.30" fill="url(#gB)"/>
<text x="575.50" y="534.56" font-size="12.4" text-anchor="middle" font-style="italic" font-family='"Liberation Sans", sans-serif' fill="#202020" stroke="#202020" stroke-width="0.2">d5</text>
<text x="615.10" y="534.56" font-size="12.4" text-anchor="middle" font-style="italic" font-family='"Liberation Sans", sans-serif' fill="#202020" stroke="#202020" stroke-width="0.2">d4</text>
<text x="634.10" y="557.76" font-size="12.4" text-anchor="middle" font-style="italic" font-family='"Liberation Sans", sans-serif' fill="#202020" stroke="#202020" stroke-width="0.2">d3</text>
<text x="549.90" y="558.26" font-size="12.4" text-anchor="middle" font-style="italic" font-family='"Liberation Sans", sans-serif' fill="#202020" stroke="#202020" stroke-width="0.2">d1</text>
<text x="567.20" y="581.36" font-size="12.4" text-anchor="middle" font-style="italic" font-family='"Liberation Sans", sans-serif' fill="#202020" stroke="#202020" stroke-width="0.2">d2</text>
</g>
</svg>
</body></html>
